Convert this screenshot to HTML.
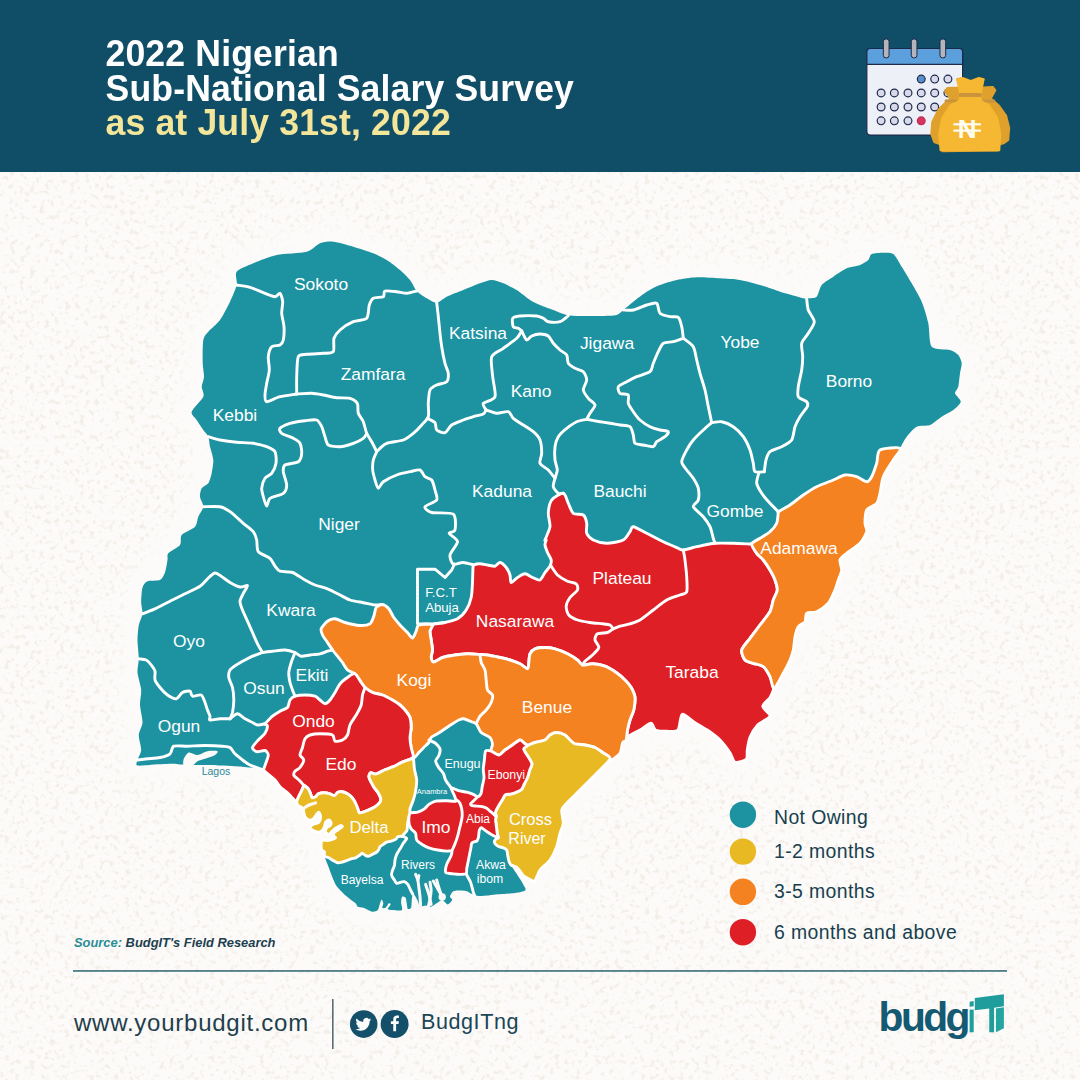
<!DOCTYPE html>
<html><head><meta charset="utf-8"><title>2022 Nigerian Sub-National Salary Survey</title>
<style>
html,body{margin:0;padding:0}
body{width:1080px;height:1080px;overflow:hidden;background:#fcfbf9;font-family:"Liberation Sans",sans-serif;position:relative}
#hdr{position:absolute;left:0;top:0;width:1080px;height:172px;background:#0f4e66}
#title{position:absolute;left:105.5px;top:37.1px;color:#fff;font-weight:bold;font-size:35.6px;line-height:33.1px;letter-spacing:0.15px;white-space:nowrap;transform:scaleY(1.042);transform-origin:0 0}
#title .y{color:#f3e59a}
svg.main{position:absolute;left:0;top:0}
svg text{font-family:"Liberation Sans",sans-serif}
</style></head><body>
<div id="hdr"></div>
<div id="title">2022 Nigerian<br>Sub-National Salary Survey<br><span class="y">as at July 31st, 2022</span></div>
<svg class="main" width="1080" height="1080" viewBox="0 0 1080 1080">
<defs><filter id="tx" x="0" y="0" width="100%" height="100%" color-interpolation-filters="sRGB"><feTurbulence type="fractalNoise" baseFrequency="0.2" numOctaves="2" seed="7"/><feColorMatrix type="matrix" values="0 0 0 0 0.93  0 0 0 0 0.89  0 0 0 0 0.855  6 0 0 0 -3.3"/></filter>
<filter id="bl" x="-10%" y="-10%" width="120%" height="120%"><feGaussianBlur stdDeviation="9"/></filter></defs>
<rect x="0" y="172" width="1080" height="908" filter="url(#tx)" opacity="0.5"/>
<path d="M236.7 271.7C238.9 268.9 248.1 265.5 253.3 263.3C258.5 261.1 269.8 256.5 276.7 255C283.6 253.5 301.1 253.2 306.7 251.7C312.3 250.2 316.5 244.6 320 243.3C323.5 242 329 241.3 333.3 241.7C337.6 242.1 348.1 245.2 353.3 246.7C358.5 248.2 369 251.6 373.3 253.3C377.6 255 383.2 257.8 386.7 260C390.2 262.2 397 267.4 400 270C403 272.6 407.8 277.3 410 280C412.2 282.7 414.5 288.6 416.7 291C418.9 293.4 424.1 296.8 426.7 298.3C429.3 299.8 434.1 302.9 436.7 302.7C439.3 302.5 443.2 298.4 446.7 296.7C450.2 295 459 291.7 463.3 290C467.6 288.3 476.3 284.6 480 283.3C483.7 282 488.7 280 491.7 280C494.7 280 500.1 282 503.3 283.3C506.6 284.6 513.2 287.8 516.7 290C520.2 292.2 527 298.1 530 300C533 301.9 537 303.7 540 305C543 306.3 549.8 308.7 553.3 310C556.8 311.3 563.2 314.2 566.7 315C570.2 315.8 575.7 315.9 580 316C584.3 316.1 595.2 316.1 600 316C604.8 315.9 613.7 315.8 616.7 315C619.7 314.2 621.1 311.7 623.3 310C625.5 308.3 630.3 304.1 633.3 301.7C636.3 299.3 643.2 293.9 646.7 291.7C650.2 289.5 656.1 286.5 660 285C663.9 283.5 671.9 281 676.7 280C681.5 279 691.1 277.5 696.7 277.3C702.3 277.1 714.4 277.9 720 278.3C725.6 278.7 734.8 279.1 740 280C745.2 280.9 754.8 283.5 760 285C765.2 286.5 775.9 290.4 780 291.7C784.1 293 788.7 294.1 791.7 295C794.7 295.9 801.1 297.9 803.3 298.3C805.5 298.7 806.6 298.5 808.3 298.3C810 298.1 815 298.4 816.7 296.7C818.4 295 819.5 287.6 821.7 285C823.9 282.4 830 278.9 833.3 276.7C836.5 274.5 843.2 269.8 846.7 268.3C850.2 266.8 857.2 266.1 860 265C862.8 263.9 866.8 261.4 868.3 260C869.8 258.6 869.8 254.9 871.7 254C873.7 253.1 880.5 252.7 883.3 252.7C886.1 252.7 890.9 252.2 893.3 254C895.7 255.8 899.3 262.9 901.7 266.7C904.1 270.5 909.1 278.8 911.7 283.3C914.3 287.9 919.5 296.5 921.7 301.7C923.9 306.9 927 317.4 928.3 323.3C929.6 329.2 928.9 343.2 931.7 346.7C934.5 350.2 946.5 348.9 950 350C953.5 351.1 956.8 353.3 958.3 355C959.8 356.7 961.5 360.9 961.7 363.3C961.9 365.7 960.4 370.3 960 373.3C959.6 376.3 958.9 384.1 958.3 386.7C957.6 389.3 954.7 391.4 955 393.3C955.3 395.2 960.9 399.5 960.7 401.7C960.5 403.9 955.8 408.1 953.3 410C950.8 411.9 944.7 414.8 941.7 416.7C938.7 418.6 933.2 423.7 930 425C926.8 426.3 919.7 425.2 916.7 426.7C913.7 428.2 908.9 433.9 906.7 436.7C904.5 439.5 901.7 445.3 900 448.3C898.3 451.3 895.5 456.3 893.3 460C891.1 463.7 885 472.4 883.3 476.7C881.6 481 880.9 489.8 880 493.3C879.1 496.8 878.4 501.1 876.7 503.3C875 505.5 868.2 507.4 866.7 510C865.2 512.6 865 520.5 865 523.3C865 526.1 867.4 529.1 866.7 531.7C866.1 534.3 862.6 540.5 860 543.3C857.4 546.1 849.3 551.1 846.7 553.3C844.1 555.5 840.6 557.8 840 560C839.4 562.2 841.9 567.4 841.7 570C841.5 572.6 839.2 577.4 838.3 580C837.4 582.6 836.3 587 835 590C833.7 593 830.7 600.5 828.3 603.3C825.9 606.1 819.5 610.4 816.7 611.7C813.9 613 808.2 612 806.7 613.3C805.2 614.6 806.1 620 805 621.7C803.9 623.4 799.6 624.8 798.3 626.7C797 628.7 795.6 633.7 795 636.7C794.4 639.7 793.9 647 793.3 650C792.6 653 791.3 657 790 660C788.7 663 785.2 669.6 783.3 673.3C781.3 677 776.7 685.1 775 688.3C773.3 691.5 771.6 695.4 770 697.7C768.4 700 762.7 703.9 762.7 706.3C762.7 708.7 770.6 713.6 770 716C769.4 718.4 760.3 722.2 757.7 725C755.1 727.8 751.4 734 750 737.3C748.6 740.5 747.8 747.1 747.3 750C746.8 752.9 747.9 757.7 746.3 759.3C744.7 760.9 737.1 763.2 735 762.3C732.9 761.4 732 755.6 730 752.7C728 749.8 723 743 720 740C717 737 710.5 732.2 707.3 730C704 727.8 698.2 724.7 695 722.7C691.8 720.7 684.5 713.4 682.3 714.3C680.1 715.2 680 727.8 678 730C676 732.2 669.6 731.3 666.7 731.3C663.8 731.3 657.7 731.3 655.7 730.3C653.7 729.3 653 723.3 651 723.3C649 723.3 643.1 728.2 640 730C636.9 731.8 629.4 735.5 627.3 737.3C625.2 739.1 624.6 741.6 623.7 743.7C622.8 745.8 621.6 751.2 620 753.3C618.4 755.4 613.7 758.7 611.7 760C609.8 761.3 607 761.6 605 763.3C603 765 599.1 770.7 596.7 773.3C594.3 775.9 589.3 780.7 586.7 783.3C584.1 785.9 579.3 790.7 576.7 793.3C574.1 795.9 568.7 801.1 566.7 803.3C564.8 805.5 562.1 807.4 561.7 810C561.3 812.6 563.5 820.3 563.3 823.3C563.1 826.3 560.9 830.3 560 833.3C559.1 836.3 558 843.2 556.7 846.7C555.4 850.2 552.2 857 550 860C547.8 863 542 867.3 540 870C538 872.7 536.2 879.4 535 880.7C533.8 882 532.2 880.4 531.1 880C530 879.6 527.7 878.4 526.7 877.8C525.7 877.2 524.2 876.5 523.3 875.6C522.4 874.7 520.9 872.2 520 871.1C519.1 870 517.9 868 516.7 867.2C515.5 866.4 511.2 864.4 511.1 865C511 865.6 514.4 870.4 515.6 872.2C516.8 874 519 877.3 520 878.9C521 880.5 522.6 883.1 523.3 884.4C524 885.7 525.5 888 525.6 888.9C525.7 889.8 525.1 890.7 524.4 891.1C523.7 891.5 521.6 891.9 520 892.2C518.4 892.5 514.2 893.1 512.2 893.3C510.2 893.5 506.6 893.8 504.4 893.9C502.2 894 497.9 894.2 495.6 894.4C493.3 894.6 488.7 895.4 486.7 895.6C484.7 895.8 481.6 896.2 480 896.1C478.4 896 475.8 895.4 474.4 895C473 894.6 470.4 893.3 469.4 892.8C468.4 892.3 468.4 891.6 466.7 891.3C465 891 458.6 890.5 456.7 890.6C454.8 890.7 453.1 891.4 452.2 892.2C451.3 893 450 895.7 450 896.7C450 897.7 452.5 899 452.2 900C451.9 901 449.1 904.4 447.8 904.4C446.5 904.4 443.6 900.1 442.2 900C440.8 899.9 438.1 902.4 436.7 903.3C435.3 904.2 432.5 906.4 431.1 906.7C429.7 907 427 905.6 425.6 905.6C424.2 905.6 421 907.3 420 906.7C419 906.1 418.4 902.4 417.8 901.1C417.2 899.8 416.2 897.6 415.6 896.7C415 895.8 413.3 893.6 412.8 894.2C412.3 894.8 411.9 899.3 411.7 901.1C411.5 902.9 411.6 906.8 411.1 907.8C410.6 908.8 408.4 909.5 407.8 908.9C407.2 908.3 407 904.7 406.7 903.3C406.4 901.9 406.2 898.7 405.6 897.8C405 896.9 402.8 896.1 402.2 896.7C401.6 897.3 401.1 900.5 401.1 902.2C401.1 903.9 402.5 908.3 402.2 909.4C401.9 910.5 400.2 910.5 398.9 910.6C397.6 910.7 393.6 910.2 392.2 910C390.8 909.8 388 909.6 387.8 908.9C387.6 908.2 390.5 905.1 390.6 904.4C390.7 903.7 389.5 902.9 388.9 903.3C388.2 903.7 386.5 907.2 385.6 907.8C384.7 908.4 382.5 908.4 382.2 907.8C381.9 907.2 383.4 904.4 383.3 903.3C383.2 902.2 382.1 899.4 381.7 899.4C381.3 899.4 380.5 901.9 380 903.3C379.5 904.7 378.8 908.9 377.8 910C376.8 911.1 374.1 912 372.2 911.7C370.3 911.4 365.2 908.4 363.3 907.8C361.4 907.1 358.8 907.3 357.8 906.7C356.8 906.1 356.5 904.2 355.6 903.3C354.7 902.4 352.4 901 351.1 900C349.8 899 347 896.9 345.6 895.6C344.2 894.3 341.3 891.5 340 890C338.7 888.5 336.6 886.1 335.6 884.4C334.6 882.7 332.9 878.4 332.2 876.7C331.5 875 330.4 872.3 330 871.1C329.6 869.9 329.3 869 328.9 867.8C328.5 866.6 327.3 863.7 326.7 862.2C326.1 860.7 324.7 857.5 324.4 856.1C324.1 854.7 324.8 852.5 324.4 851.7C324 850.9 322.1 850.8 321.7 850C321.3 849.2 321.1 846.8 321.1 845.6C321.1 844.4 321.3 841.8 321.7 841.1C322.1 840.4 323.6 840.1 324.4 840C325.2 839.9 326.8 840.7 327.8 840.6C328.8 840.5 331.2 839.8 332.2 839.4C333.2 839 335.5 838.3 335.6 837.8C335.7 837.3 333.5 836.3 333.3 835.6C333.1 834.9 333.8 832.9 334.4 832.2C335 831.5 336.8 830.7 337.8 830C338.8 829.3 341.8 827.3 342.2 826.7C342.6 826.1 341.5 825.4 340.6 825.6C339.7 825.8 336.7 827.6 335.6 828.3C334.5 829 333.1 830.3 332.2 831.1C331.3 831.9 329.8 834.3 328.9 834.4C328 834.5 325.9 833.1 325.6 832.2C325.3 831.3 326.1 828.7 326.7 827.8C327.3 826.9 329.4 826.2 330 825.6C330.6 825 331.2 823.5 331.1 822.8C331 822.1 329.6 820.1 328.9 820C328.2 819.9 326.2 821.3 325.6 822.2C325 823.1 324.8 825.6 324.4 826.7C324 827.8 323.1 829.9 322.2 830.6C321.3 831.3 319.1 832.3 317.8 832.2C316.5 832.1 313.2 830.7 312.2 830C311.2 829.3 309.9 827.4 310 826.7C310.1 826 312.1 825 313.3 824.4C314.5 823.8 318 823.2 318.9 822.2C319.8 821.2 320.6 818 320.6 816.7C320.6 815.4 319.4 812.5 318.9 812.2C318.4 811.9 317.4 813.5 316.7 814.4C316 815.3 314.3 818.2 313.3 818.9C312.3 819.6 310 820.3 308.9 820C307.8 819.7 305.6 817.6 305 816.7C304.4 815.8 304.2 813.9 303.9 812.8C303.6 811.7 303.5 809.2 302.8 808.3C302.1 807.4 299.1 806.5 298.3 805.6C297.5 804.7 297.2 802.4 296.7 801.7C296.2 801 295.7 801.2 294.4 800C293.1 798.8 288.6 793.9 286.7 792.2C284.8 790.5 281.5 788.3 280 786.7C278.5 785.1 276.8 781.8 275 780C273.2 778.2 267.8 773.9 266.2 772.5C264.6 771.1 264.6 770.1 262.5 769.5C260.4 768.9 253.6 767.9 250 767.5C246.4 767.1 238.9 766.5 235 766.2C231.1 765.9 223.9 765.7 220 765.5C216.1 765.3 208.6 765.1 205 765C201.4 764.9 195.8 765.1 192.5 765C189.2 764.9 182.6 764.7 180 764.5C177.4 764.3 175.8 763.8 172.5 763.8C169.2 763.8 159.6 764.3 155 764.5C150.4 764.7 139.8 766.1 137.5 765.5C135.2 764.9 137 762 137.5 760C138 758 141 753.2 141.2 750C141.4 746.8 138.6 738.6 138.8 735C139 731.4 142.3 726.4 142.5 722.5C142.7 718.6 140.2 709.2 140 705C139.8 700.8 141.5 694.2 141.2 690C140.9 685.8 137.8 676.6 137.5 672.5C137.2 668.4 138.8 663 138.8 658.8C138.8 654.6 137.5 644.4 137.5 640C137.5 635.6 138.2 628.4 138.8 625C139.5 621.6 142.2 616.7 142.5 613.8C142.8 610.9 141.2 605.9 141.2 602.5C141.2 599.1 141.7 590.3 142.5 587.5C143.3 584.7 145.2 582.2 147.5 581.2C149.8 580.2 157.7 581.1 160 580C162.3 578.9 164 575.1 165 572.5C166 569.9 167.1 562.5 167.5 560C167.9 557.5 166.7 555.2 168.3 553.3C169.9 551.3 178.3 547.4 180 545C181.7 542.6 179.8 537.4 181.7 535C183.6 532.6 192.8 529.1 195 526.7C197.2 524.3 197.2 519.3 198.3 516.7C199.4 514.1 203.1 509.3 203.3 506.7C203.5 504.1 200.2 499.1 200 496.7C199.8 494.3 200.6 490 201.7 488.3C202.8 486.6 207 485.2 208.3 483.3C209.6 481.4 211 476.3 211.7 473.3C212.3 470.3 213.5 463.5 213.3 460C213.1 456.5 210.7 449.7 210 446.7C209.3 443.7 209.2 438.9 208.3 436.7C207.4 434.5 204.8 432.2 203.3 430C201.8 427.8 198.2 422.4 196.7 420C195.2 417.6 190.8 414.7 191.7 411.7C192.6 408.7 202 399.9 203.3 396.7C204.6 393.4 201.6 389.3 201.7 386.7C201.8 384.1 203.9 379.7 204 376.7C204.1 373.7 202.8 368.1 202.7 363.3C202.6 358.5 202.6 344.1 203.3 340C204 335.9 206.1 334.3 208.3 331.7C210.5 329.1 217.2 323.9 220 320C222.8 316.1 227.8 306.2 230 301.7C232.2 297.1 235.8 288.9 236.7 285C237.6 281.1 234.5 274.5 236.7 271.7Z" fill="#fcfbf9" stroke="#fcfbf9" stroke-width="34" stroke-linejoin="round" filter="url(#bl)"/>
<g id="map">
<path d="M236.7 271.7C238.9 268.9 248.1 265.5 253.3 263.3C258.5 261.1 269.8 256.5 276.7 255C283.6 253.5 301.1 253.2 306.7 251.7C312.3 250.2 316.5 244.6 320 243.3C323.5 242 329 241.3 333.3 241.7C337.6 242.1 348.1 245.2 353.3 246.7C358.5 248.2 369 251.6 373.3 253.3C377.6 255 383.2 257.8 386.7 260C390.2 262.2 397 267.4 400 270C403 272.6 407.8 277.3 410 280C412.2 282.7 414.5 288.6 416.7 291C418.9 293.4 424.1 296.8 426.7 298.3C429.3 299.8 434.1 302.9 436.7 302.7C439.3 302.5 443.2 298.4 446.7 296.7C450.2 295 459 291.7 463.3 290C467.6 288.3 476.3 284.6 480 283.3C483.7 282 488.7 280 491.7 280C494.7 280 500.1 282 503.3 283.3C506.6 284.6 513.2 287.8 516.7 290C520.2 292.2 527 298.1 530 300C533 301.9 537 303.7 540 305C543 306.3 549.8 308.7 553.3 310C556.8 311.3 563.2 314.2 566.7 315C570.2 315.8 575.7 315.9 580 316C584.3 316.1 595.2 316.1 600 316C604.8 315.9 613.7 315.8 616.7 315C619.7 314.2 621.1 311.7 623.3 310C625.5 308.3 630.3 304.1 633.3 301.7C636.3 299.3 643.2 293.9 646.7 291.7C650.2 289.5 656.1 286.5 660 285C663.9 283.5 671.9 281 676.7 280C681.5 279 691.1 277.5 696.7 277.3C702.3 277.1 714.4 277.9 720 278.3C725.6 278.7 734.8 279.1 740 280C745.2 280.9 754.8 283.5 760 285C765.2 286.5 775.9 290.4 780 291.7C784.1 293 788.7 294.1 791.7 295C794.7 295.9 801.1 297.9 803.3 298.3C805.5 298.7 806.6 298.5 808.3 298.3C810 298.1 815 298.4 816.7 296.7C818.4 295 819.5 287.6 821.7 285C823.9 282.4 830 278.9 833.3 276.7C836.5 274.5 843.2 269.8 846.7 268.3C850.2 266.8 857.2 266.1 860 265C862.8 263.9 866.8 261.4 868.3 260C869.8 258.6 869.8 254.9 871.7 254C873.7 253.1 880.5 252.7 883.3 252.7C886.1 252.7 890.9 252.2 893.3 254C895.7 255.8 899.3 262.9 901.7 266.7C904.1 270.5 909.1 278.8 911.7 283.3C914.3 287.9 919.5 296.5 921.7 301.7C923.9 306.9 927 317.4 928.3 323.3C929.6 329.2 928.9 343.2 931.7 346.7C934.5 350.2 946.5 348.9 950 350C953.5 351.1 956.8 353.3 958.3 355C959.8 356.7 961.5 360.9 961.7 363.3C961.9 365.7 960.4 370.3 960 373.3C959.6 376.3 958.9 384.1 958.3 386.7C957.6 389.3 954.7 391.4 955 393.3C955.3 395.2 960.9 399.5 960.7 401.7C960.5 403.9 955.8 408.1 953.3 410C950.8 411.9 944.7 414.8 941.7 416.7C938.7 418.6 933.2 423.7 930 425C926.8 426.3 919.7 425.2 916.7 426.7C913.7 428.2 908.9 433.9 906.7 436.7C904.5 439.5 901.7 445.3 900 448.3C898.3 451.3 895.5 456.3 893.3 460C891.1 463.7 885 472.4 883.3 476.7C881.6 481 880.9 489.8 880 493.3C879.1 496.8 878.4 501.1 876.7 503.3C875 505.5 868.2 507.4 866.7 510C865.2 512.6 865 520.5 865 523.3C865 526.1 867.4 529.1 866.7 531.7C866.1 534.3 862.6 540.5 860 543.3C857.4 546.1 849.3 551.1 846.7 553.3C844.1 555.5 840.6 557.8 840 560C839.4 562.2 841.9 567.4 841.7 570C841.5 572.6 839.2 577.4 838.3 580C837.4 582.6 836.3 587 835 590C833.7 593 830.7 600.5 828.3 603.3C825.9 606.1 819.5 610.4 816.7 611.7C813.9 613 808.2 612 806.7 613.3C805.2 614.6 806.1 620 805 621.7C803.9 623.4 799.6 624.8 798.3 626.7C797 628.7 795.6 633.7 795 636.7C794.4 639.7 793.9 647 793.3 650C792.6 653 791.3 657 790 660C788.7 663 785.2 669.6 783.3 673.3C781.3 677 776.7 685.1 775 688.3C773.3 691.5 771.6 695.4 770 697.7C768.4 700 762.7 703.9 762.7 706.3C762.7 708.7 770.6 713.6 770 716C769.4 718.4 760.3 722.2 757.7 725C755.1 727.8 751.4 734 750 737.3C748.6 740.5 747.8 747.1 747.3 750C746.8 752.9 747.9 757.7 746.3 759.3C744.7 760.9 737.1 763.2 735 762.3C732.9 761.4 732 755.6 730 752.7C728 749.8 723 743 720 740C717 737 710.5 732.2 707.3 730C704 727.8 698.2 724.7 695 722.7C691.8 720.7 684.5 713.4 682.3 714.3C680.1 715.2 680 727.8 678 730C676 732.2 669.6 731.3 666.7 731.3C663.8 731.3 657.7 731.3 655.7 730.3C653.7 729.3 653 723.3 651 723.3C649 723.3 643.1 728.2 640 730C636.9 731.8 629.4 735.5 627.3 737.3C625.2 739.1 624.6 741.6 623.7 743.7C622.8 745.8 621.6 751.2 620 753.3C618.4 755.4 613.7 758.7 611.7 760C609.8 761.3 607 761.6 605 763.3C603 765 599.1 770.7 596.7 773.3C594.3 775.9 589.3 780.7 586.7 783.3C584.1 785.9 579.3 790.7 576.7 793.3C574.1 795.9 568.7 801.1 566.7 803.3C564.8 805.5 562.1 807.4 561.7 810C561.3 812.6 563.5 820.3 563.3 823.3C563.1 826.3 560.9 830.3 560 833.3C559.1 836.3 558 843.2 556.7 846.7C555.4 850.2 552.2 857 550 860C547.8 863 542 867.3 540 870C538 872.7 536.2 879.4 535 880.7C533.8 882 532.2 880.4 531.1 880C530 879.6 527.7 878.4 526.7 877.8C525.7 877.2 524.2 876.5 523.3 875.6C522.4 874.7 520.9 872.2 520 871.1C519.1 870 517.9 868 516.7 867.2C515.5 866.4 511.2 864.4 511.1 865C511 865.6 514.4 870.4 515.6 872.2C516.8 874 519 877.3 520 878.9C521 880.5 522.6 883.1 523.3 884.4C524 885.7 525.5 888 525.6 888.9C525.7 889.8 525.1 890.7 524.4 891.1C523.7 891.5 521.6 891.9 520 892.2C518.4 892.5 514.2 893.1 512.2 893.3C510.2 893.5 506.6 893.8 504.4 893.9C502.2 894 497.9 894.2 495.6 894.4C493.3 894.6 488.7 895.4 486.7 895.6C484.7 895.8 481.6 896.2 480 896.1C478.4 896 475.8 895.4 474.4 895C473 894.6 470.4 893.3 469.4 892.8C468.4 892.3 468.4 891.6 466.7 891.3C465 891 458.6 890.5 456.7 890.6C454.8 890.7 453.1 891.4 452.2 892.2C451.3 893 450 895.7 450 896.7C450 897.7 452.5 899 452.2 900C451.9 901 449.1 904.4 447.8 904.4C446.5 904.4 443.6 900.1 442.2 900C440.8 899.9 438.1 902.4 436.7 903.3C435.3 904.2 432.5 906.4 431.1 906.7C429.7 907 427 905.6 425.6 905.6C424.2 905.6 421 907.3 420 906.7C419 906.1 418.4 902.4 417.8 901.1C417.2 899.8 416.2 897.6 415.6 896.7C415 895.8 413.3 893.6 412.8 894.2C412.3 894.8 411.9 899.3 411.7 901.1C411.5 902.9 411.6 906.8 411.1 907.8C410.6 908.8 408.4 909.5 407.8 908.9C407.2 908.3 407 904.7 406.7 903.3C406.4 901.9 406.2 898.7 405.6 897.8C405 896.9 402.8 896.1 402.2 896.7C401.6 897.3 401.1 900.5 401.1 902.2C401.1 903.9 402.5 908.3 402.2 909.4C401.9 910.5 400.2 910.5 398.9 910.6C397.6 910.7 393.6 910.2 392.2 910C390.8 909.8 388 909.6 387.8 908.9C387.6 908.2 390.5 905.1 390.6 904.4C390.7 903.7 389.5 902.9 388.9 903.3C388.2 903.7 386.5 907.2 385.6 907.8C384.7 908.4 382.5 908.4 382.2 907.8C381.9 907.2 383.4 904.4 383.3 903.3C383.2 902.2 382.1 899.4 381.7 899.4C381.3 899.4 380.5 901.9 380 903.3C379.5 904.7 378.8 908.9 377.8 910C376.8 911.1 374.1 912 372.2 911.7C370.3 911.4 365.2 908.4 363.3 907.8C361.4 907.1 358.8 907.3 357.8 906.7C356.8 906.1 356.5 904.2 355.6 903.3C354.7 902.4 352.4 901 351.1 900C349.8 899 347 896.9 345.6 895.6C344.2 894.3 341.3 891.5 340 890C338.7 888.5 336.6 886.1 335.6 884.4C334.6 882.7 332.9 878.4 332.2 876.7C331.5 875 330.4 872.3 330 871.1C329.6 869.9 329.3 869 328.9 867.8C328.5 866.6 327.3 863.7 326.7 862.2C326.1 860.7 324.7 857.5 324.4 856.1C324.1 854.7 324.8 852.5 324.4 851.7C324 850.9 322.1 850.8 321.7 850C321.3 849.2 321.1 846.8 321.1 845.6C321.1 844.4 321.3 841.8 321.7 841.1C322.1 840.4 323.6 840.1 324.4 840C325.2 839.9 326.8 840.7 327.8 840.6C328.8 840.5 331.2 839.8 332.2 839.4C333.2 839 335.5 838.3 335.6 837.8C335.7 837.3 333.5 836.3 333.3 835.6C333.1 834.9 333.8 832.9 334.4 832.2C335 831.5 336.8 830.7 337.8 830C338.8 829.3 341.8 827.3 342.2 826.7C342.6 826.1 341.5 825.4 340.6 825.6C339.7 825.8 336.7 827.6 335.6 828.3C334.5 829 333.1 830.3 332.2 831.1C331.3 831.9 329.8 834.3 328.9 834.4C328 834.5 325.9 833.1 325.6 832.2C325.3 831.3 326.1 828.7 326.7 827.8C327.3 826.9 329.4 826.2 330 825.6C330.6 825 331.2 823.5 331.1 822.8C331 822.1 329.6 820.1 328.9 820C328.2 819.9 326.2 821.3 325.6 822.2C325 823.1 324.8 825.6 324.4 826.7C324 827.8 323.1 829.9 322.2 830.6C321.3 831.3 319.1 832.3 317.8 832.2C316.5 832.1 313.2 830.7 312.2 830C311.2 829.3 309.9 827.4 310 826.7C310.1 826 312.1 825 313.3 824.4C314.5 823.8 318 823.2 318.9 822.2C319.8 821.2 320.6 818 320.6 816.7C320.6 815.4 319.4 812.5 318.9 812.2C318.4 811.9 317.4 813.5 316.7 814.4C316 815.3 314.3 818.2 313.3 818.9C312.3 819.6 310 820.3 308.9 820C307.8 819.7 305.6 817.6 305 816.7C304.4 815.8 304.2 813.9 303.9 812.8C303.6 811.7 303.5 809.2 302.8 808.3C302.1 807.4 299.1 806.5 298.3 805.6C297.5 804.7 297.2 802.4 296.7 801.7C296.2 801 295.7 801.2 294.4 800C293.1 798.8 288.6 793.9 286.7 792.2C284.8 790.5 281.5 788.3 280 786.7C278.5 785.1 276.8 781.8 275 780C273.2 778.2 267.8 773.9 266.2 772.5C264.6 771.1 264.6 770.1 262.5 769.5C260.4 768.9 253.6 767.9 250 767.5C246.4 767.1 238.9 766.5 235 766.2C231.1 765.9 223.9 765.7 220 765.5C216.1 765.3 208.6 765.1 205 765C201.4 764.9 195.8 765.1 192.5 765C189.2 764.9 182.6 764.7 180 764.5C177.4 764.3 175.8 763.8 172.5 763.8C169.2 763.8 159.6 764.3 155 764.5C150.4 764.7 139.8 766.1 137.5 765.5C135.2 764.9 137 762 137.5 760C138 758 141 753.2 141.2 750C141.4 746.8 138.6 738.6 138.8 735C139 731.4 142.3 726.4 142.5 722.5C142.7 718.6 140.2 709.2 140 705C139.8 700.8 141.5 694.2 141.2 690C140.9 685.8 137.8 676.6 137.5 672.5C137.2 668.4 138.8 663 138.8 658.8C138.8 654.6 137.5 644.4 137.5 640C137.5 635.6 138.2 628.4 138.8 625C139.5 621.6 142.2 616.7 142.5 613.8C142.8 610.9 141.2 605.9 141.2 602.5C141.2 599.1 141.7 590.3 142.5 587.5C143.3 584.7 145.2 582.2 147.5 581.2C149.8 580.2 157.7 581.1 160 580C162.3 578.9 164 575.1 165 572.5C166 569.9 167.1 562.5 167.5 560C167.9 557.5 166.7 555.2 168.3 553.3C169.9 551.3 178.3 547.4 180 545C181.7 542.6 179.8 537.4 181.7 535C183.6 532.6 192.8 529.1 195 526.7C197.2 524.3 197.2 519.3 198.3 516.7C199.4 514.1 203.1 509.3 203.3 506.7C203.5 504.1 200.2 499.1 200 496.7C199.8 494.3 200.6 490 201.7 488.3C202.8 486.6 207 485.2 208.3 483.3C209.6 481.4 211 476.3 211.7 473.3C212.3 470.3 213.5 463.5 213.3 460C213.1 456.5 210.7 449.7 210 446.7C209.3 443.7 209.2 438.9 208.3 436.7C207.4 434.5 204.8 432.2 203.3 430C201.8 427.8 198.2 422.4 196.7 420C195.2 417.6 190.8 414.7 191.7 411.7C192.6 408.7 202 399.9 203.3 396.7C204.6 393.4 201.6 389.3 201.7 386.7C201.8 384.1 203.9 379.7 204 376.7C204.1 373.7 202.8 368.1 202.7 363.3C202.6 358.5 202.6 344.1 203.3 340C204 335.9 206.1 334.3 208.3 331.7C210.5 329.1 217.2 323.9 220 320C222.8 316.1 227.8 306.2 230 301.7C232.2 297.1 235.8 288.9 236.7 285C237.6 281.1 234.5 274.5 236.7 271.7Z" fill="#1d93a1"/>
<path d="M183.8 758.8C184.5 757.1 187 753 188.8 752.5C190.6 752 195.1 755.2 197.5 755C199.9 754.8 204.9 751.7 207.5 751.2C210.1 750.7 216.5 750.7 217.5 751.2C218.5 751.7 216.6 754 215 755C213.4 756 207.3 758 205 758.8C202.7 759.6 199.1 760.3 197.5 761.2C195.9 762.1 194.3 764.9 192.5 765.5C190.7 766.1 184.9 766.4 183.8 765.5C182.7 764.6 183.2 760.5 183.8 758.8Z" fill="#fcfbf9"/>
<path d="M563.3 493.3C565.5 493.7 567 500.7 568.3 503.3C569.6 505.9 571.3 511.8 573.3 513.3C575.2 514.8 581.6 513.7 583.3 515C585 516.3 586.3 520.9 586.7 523.3C587.1 525.7 585.8 531.1 586.7 533.3C587.6 535.5 590.7 538.7 593.3 540C595.9 541.3 602.8 543.3 606.7 543.3C610.6 543.3 620.3 541.5 623.3 540C626.3 538.5 628.7 533.4 630 531.7C631.3 530 631.1 526.5 633.3 526.7C635.5 526.9 642.8 531.3 646.7 533.3C650.6 535.2 659.2 539.8 663.3 541.7C667.4 543.7 675.7 547.2 678.3 548.3C680.9 549.4 680.9 550.2 683.3 550C685.7 549.8 692.6 547.6 696.7 546.7C700.8 545.8 710.2 543.7 715 543.3C719.8 542.9 728.8 543.2 733.3 543.3C737.8 543.4 747.6 543.9 750 544C752.4 544.1 750.8 542.8 751.7 544C752.6 545.2 755.2 551.2 756.7 553.3C758.2 555.4 761.6 557.8 763.3 560C765 562.2 768.5 567.4 770 570C771.5 572.6 774.1 577.4 775 580C775.9 582.6 777.5 587.4 777.3 590C777.1 592.6 774.2 597.2 773.3 600C772.4 602.8 771.7 608.5 770 611.7C768.3 615 762.6 621.5 760 625C757.4 628.5 752.4 635 750 638.3C747.6 641.5 742.4 647.2 741.7 650C741.1 652.8 743.5 658.3 745 660C746.5 661.7 750.9 662.4 753.3 663.3C755.7 664.2 761.1 665 763.3 666.7C765.5 668.4 768.6 673.9 770 676.7C771.4 679.5 773.5 686.8 774 688.3C774.5 689.8 774.5 687.1 774 688.3C773.5 689.5 771.5 695.4 770 697.7C768.5 700 762.7 703.9 762.7 706.3C762.7 708.7 770.6 713.6 770 716C769.4 718.4 760.3 722.2 757.7 725C755.1 727.8 751.4 734 750 737.3C748.6 740.5 747.8 747.1 747.3 750C746.8 752.9 747.9 757.7 746.3 759.3C744.7 760.9 737.1 763.2 735 762.3C732.9 761.4 732 755.6 730 752.7C728 749.8 723 743 720 740C717 737 710.5 732.2 707.3 730C704 727.8 698.2 724.7 695 722.7C691.8 720.7 684.5 713.4 682.3 714.3C680.1 715.2 680 727.8 678 730C676 732.2 669.6 731.3 666.7 731.3C663.8 731.3 657.7 731.3 655.7 730.3C653.7 729.3 653 723.3 651 723.3C649 723.3 643.1 728.2 640 730C636.9 731.8 629.4 735.5 627.3 737.3C625.2 739.1 623.8 743.3 623.7 743.7C623.6 744.1 625.7 741.8 626.2 740C626.7 738.2 627 732.6 627.5 730C628 727.4 629.2 722.6 630 720C630.8 717.4 633.1 712.9 633.8 710C634.4 707.1 635.3 700.4 635 697.5C634.7 694.6 632.5 689.8 631.2 687.5C629.9 685.2 627 682 625 680C623 678 618.8 674.3 616.2 672.5C613.6 670.7 608.1 667.3 605 666.2C601.9 665.1 595.4 664 592.5 663.8C589.6 663.6 584.5 665.5 582.5 665C580.5 664.5 579.5 661.5 577.5 660C575.5 658.5 570.4 655.3 567.5 653.8C564.6 652.3 557.9 649.6 555 648.8C552.1 648 547.6 647.5 545 647.5C542.4 647.5 537 648 535 648.8C533 649.6 530.8 652 530 653.8C529.2 655.6 529.1 660.5 528.8 662.5C528.5 664.5 528.6 668.6 527.5 668.8C526.4 669 522.3 664.9 520 663.8C517.7 662.7 512.9 660.9 510 660C507.1 659.1 500.4 657.6 497.5 657C494.6 656.4 489.8 655.3 487.5 655C485.2 654.7 482.6 654.7 480 654.5C477.4 654.3 470.8 653.7 467.5 653.8C464.2 653.9 458.2 654.5 455 655C451.8 655.5 445.3 656.6 442.5 657.5C439.7 658.4 435.3 662 433.8 662C432.3 662 431.4 659.1 431.2 657.5C431 655.9 432.5 652.3 432.5 650C432.5 647.7 431.5 642.4 431.2 640C430.9 637.6 429.8 633.3 430 631.2C430.2 629.1 430.6 625.3 432.5 624.2C434.4 623.1 441.8 623.2 445 622.5C448.2 621.8 454.7 620.4 457.5 618.8C460.3 617.2 464.4 612.8 466.2 610C468 607.2 470.4 601.1 471.2 597.5C472 593.9 472.3 586.4 472.5 582.5C472.7 578.6 472.8 569.8 473 567.5C473.2 565.2 472.9 565.5 473.8 565C474.7 564.5 478.2 563.8 480 563.8C481.8 563.8 485.6 564.7 487.5 565C489.4 565.3 493.4 566.5 495 566.2C496.6 565.9 498.5 562.3 500 562.5C501.5 562.7 504.9 565.9 506.2 567.5C507.5 569.1 509.4 573 510 575C510.6 577 510.2 582.2 511.2 582.5C512.2 582.8 515.7 578.6 517.5 577.5C519.3 576.4 523 573.8 525 573.8C527 573.8 530.5 576.7 532.5 577.5C534.5 578.3 538.4 580.6 540 580C541.6 579.4 543.7 574.3 545 572.5C546.3 570.7 549.2 567.8 550 566.2C550.8 564.6 551.5 561.8 551.2 560C550.9 558.2 548.3 554.5 547.5 552.5C546.7 550.5 545.2 546.6 545 545C544.8 543.4 546.2 540.6 546.2 540C546.2 539.4 544.5 541.7 545 540C545.5 538.3 549.6 530.2 550 526.7C550.4 523.2 548.1 516.8 548.3 513.3C548.5 509.8 549.8 502.6 551.7 500C553.7 497.4 561.1 492.9 563.3 493.3Z" fill="#de1f26" stroke="#fff" stroke-width="2.9" stroke-linejoin="round"/>
<path d="M778.3 511.7C779.8 510.8 786.8 507.2 790 505C793.2 502.8 799.8 497.4 803.3 495C806.8 492.6 812.8 488.6 816.7 486.7C820.6 484.8 829.6 481.5 833.3 480C837 478.5 842 475.4 845 475C848 474.6 853.9 475.8 856.7 476.7C859.5 477.6 864.8 481.7 866.7 481.7C868.7 481.7 870.4 479.1 871.7 476.7C873 474.3 875.6 466.8 876.7 463.3C877.8 459.8 877 451.9 880 450C883 448.1 898.3 447 900 448.3C901.7 449.6 895.5 456.3 893.3 460C891.1 463.7 885 472.4 883.3 476.7C881.6 481 880.9 489.8 880 493.3C879.1 496.8 878.4 501.1 876.7 503.3C875 505.5 868.2 507.4 866.7 510C865.2 512.6 865 520.5 865 523.3C865 526.1 867.4 529.1 866.7 531.7C866.1 534.3 862.6 540.5 860 543.3C857.4 546.1 849.3 551.1 846.7 553.3C844.1 555.5 840.6 557.8 840 560C839.4 562.2 841.9 567.4 841.7 570C841.5 572.6 839.2 577.4 838.3 580C837.4 582.6 836.3 587 835 590C833.7 593 830.7 600.5 828.3 603.3C825.9 606.1 819.5 610.4 816.7 611.7C813.9 613 808.2 612 806.7 613.3C805.2 614.6 806.1 620 805 621.7C803.9 623.4 799.6 624.8 798.3 626.7C797 628.7 795.6 633.7 795 636.7C794.4 639.7 793.9 647 793.3 650C792.6 653 791.3 657 790 660C788.7 663 785.4 669.6 783.3 673.3C781.2 677 775.7 687.9 774 688.3C772.3 688.7 771.4 679.5 770 676.7C768.6 673.9 765.5 668.4 763.3 666.7C761.1 665 755.7 664.2 753.3 663.3C750.9 662.4 746.5 661.7 745 660C743.5 658.3 741.1 652.8 741.7 650C742.4 647.2 747.6 641.5 750 638.3C752.4 635 757.4 628.5 760 625C762.6 621.5 768.3 615 770 611.7C771.7 608.5 772.4 602.8 773.3 600C774.2 597.2 777.1 592.6 777.3 590C777.5 587.4 775.9 582.6 775 580C774.1 577.4 771.5 572.6 770 570C768.5 567.4 765 562.2 763.3 560C761.6 557.8 758.2 555.4 756.7 553.3C755.2 551.2 751.3 546 751.7 544C752.1 542 757.6 539.9 760 538.3C762.4 536.7 767.8 533.7 770 531.7C772.2 529.8 775.6 525.9 776.7 523.3C777.8 520.7 778.1 513.2 778.3 511.7C778.5 510.2 776.8 512.6 778.3 511.7Z" fill="#f58220" stroke="#fff" stroke-width="2.9" stroke-linejoin="round"/>
<path d="M332.5 650C331.9 649 328.8 644.5 327.5 642.5C326.2 640.5 323.3 636.8 322.5 635C321.7 633.2 320.6 630.6 321.2 628.8C321.8 627 325.7 622.5 327.5 621.2C329.3 619.9 332.7 618.6 335 618.8C337.3 619 341.8 621.6 345 622.5C348.2 623.4 356.8 625.3 360 625.5C363.2 625.7 368.2 625 370 623.8C371.8 622.6 373 618.3 373.8 616.2C374.6 614.1 375.1 609 376.2 607.5C377.3 606 380.9 604.3 382.5 604.5C384.1 604.7 387.3 607.1 388.8 608.8C390.3 610.5 392.3 615.4 393.8 617.5C395.3 619.6 398.2 623 400 625C401.8 627 405.9 630.8 407.5 632.5C409.1 634.2 411.4 638.2 412.5 638C413.6 637.8 415.4 632.9 416.2 631.2C417 629.5 416.7 625.9 418.8 625C420.9 624.1 431 623.4 432.5 624.2C434 625 430.2 629.1 430 631.2C429.8 633.3 430.9 637.6 431.2 640C431.5 642.4 432.5 647.7 432.5 650C432.5 652.3 431 655.9 431.2 657.5C431.4 659.1 432.3 662 433.8 662C435.3 662 439.7 658.4 442.5 657.5C445.3 656.6 451.8 655.5 455 655C458.2 654.5 464.2 653.9 467.5 653.8C470.8 653.7 477.4 654.3 480 654.5C482.6 654.7 485.2 654.7 487.5 655C489.8 655.3 494.6 656.4 497.5 657C500.4 657.6 507.1 659.1 510 660C512.9 660.9 517.7 662.7 520 663.8C522.3 664.9 526.4 669 527.5 668.8C528.6 668.6 528.5 664.5 528.8 662.5C529.1 660.5 529.2 655.6 530 653.8C530.8 652 533 649.6 535 648.8C537 648 542.4 647.5 545 647.5C547.6 647.5 552.1 648 555 648.8C557.9 649.6 564.6 652.3 567.5 653.8C570.4 655.3 575.5 658.5 577.5 660C579.5 661.5 580.5 664.5 582.5 665C584.5 665.5 589.6 663.6 592.5 663.8C595.4 664 601.9 665.1 605 666.2C608.1 667.3 613.6 670.7 616.2 672.5C618.8 674.3 623 678 625 680C627 682 629.9 685.2 631.2 687.5C632.5 689.8 634.7 694.6 635 697.5C635.3 700.4 634.4 707.1 633.8 710C633.1 712.9 630.8 717.4 630 720C629.2 722.6 628 727.4 627.5 730C627 732.6 626.8 738.3 626.2 740C625.6 741.7 623.5 741 622.7 742.7C621.9 744.4 621.4 751.1 620 753.3C618.6 755.5 613 759.3 611.7 760C610.4 760.7 611.2 759.8 610 758.8C608.8 757.8 604.5 754 602.5 752.5C600.5 751 597.3 748.5 595 747.5C592.7 746.5 587.6 745.5 585 745C582.4 744.5 577 744.4 575 743.8C573 743.1 571.3 741.1 570 740C568.7 738.9 566.8 736 565 735C563.2 734 558.2 732.5 556.2 732.5C554.2 732.5 551.5 734 550 735C548.5 736 547 739 545 740C543 741 537.3 741.8 535 742.5C532.7 743.2 528.8 745.3 527.5 745.5C526.2 745.7 526 744.5 525 743.8C524 743.1 521.6 739.8 520 740C518.4 740.2 514.5 743.7 512.5 745C510.6 746.3 506.8 748.7 505 750C503.2 751.3 500.6 754.8 498.8 755C497 755.2 492 752.7 491.2 751.2C490.4 749.7 492.7 745.6 492.5 743.8C492.3 742 491.5 739 490 737.5C488.5 736 483 734.3 481.2 732.5C479.4 730.7 477.7 725.3 476.2 723.8C474.7 722.3 471.6 721.9 470 721.2C468.4 720.6 465.3 719 463.8 718.8C462.3 718.6 460.3 719.4 458.8 720C457.3 720.6 454.3 722.7 452.5 723.8C450.7 724.9 446.9 727.5 445 728.8C443.1 730.1 439.3 732.7 437.5 733.8C435.7 734.9 432.3 736.4 431.2 737.5C430.1 738.6 429.8 741.2 428.8 742.5C427.8 743.8 425.1 746.2 423.8 747.5C422.5 748.8 420.1 751.1 418.8 752.5C417.5 753.9 414.8 758.6 413.8 758C412.8 757.4 411.7 750.2 411.2 747.5C410.7 744.8 410 740.1 410 737.5C410 734.9 411.2 730.1 411.2 727.5C411.2 724.9 410.8 719.8 410 717.5C409.2 715.2 406.3 711.6 405 710C403.7 708.4 401.6 706.3 400 705C398.4 703.7 394.8 701.3 392.5 700C390.2 698.7 385.1 696 382.5 695C379.9 694 374.8 693.5 372.5 692.5C370.2 691.5 366.5 688.8 365 687.5C363.5 686.2 362.5 684.3 361.2 682.5C359.9 680.7 356.8 675.4 355 673.8C353.2 672.2 349.1 671.5 347.5 670C345.9 668.5 343.8 664.3 342.5 662.5C341.2 660.7 338.8 657.8 337.5 656.2C336.2 654.6 333.1 650.8 332.5 650C331.9 649.2 333.1 651 332.5 650Z" fill="#f58220" stroke="#fff" stroke-width="2.9" stroke-linejoin="round"/>
<path d="M265 723.8C266 722.8 270.6 717.8 272.5 716.2C274.4 714.6 278.1 712.3 280 711.2C281.9 710.1 286.2 709 287.5 707.5C288.8 706 289 701.5 290 700C291 698.5 293.1 696.9 295 696.2C296.9 695.6 302.4 695 305 695C307.6 695 313.1 695.6 315 696.2C316.9 696.9 318.7 699 320 700C321.3 701 323.7 703.8 325 703.8C326.3 703.8 328.7 701.5 330 700C331.3 698.5 333.7 694.6 335 692.5C336.3 690.4 338.4 685.8 340 683.8C341.6 681.8 345.6 678.8 347.5 677.5C349.4 676.2 353.2 673.1 355 673.8C356.8 674.4 359.9 680.7 361.2 682.5C362.5 684.3 363.5 686.2 365 687.5C366.5 688.8 370.2 691.5 372.5 692.5C374.8 693.5 379.9 694 382.5 695C385.1 696 390.2 698.7 392.5 700C394.8 701.3 398.4 703.7 400 705C401.6 706.3 403.7 708.4 405 710C406.3 711.6 409.2 715.2 410 717.5C410.8 719.8 411.2 724.9 411.2 727.5C411.2 730.1 410 734.9 410 737.5C410 740.1 410.7 744.8 411.2 747.5C411.7 750.2 413.8 756.5 413.8 758C413.8 759.5 412.6 758.4 411.1 758.9C409.6 759.4 404.5 761.2 402.2 762.2C399.9 763.2 395.6 765.7 393.3 766.7C391 767.7 385.8 769.4 384.4 770C383 770.6 383.1 770.7 382.2 771.1C381.3 771.5 378.8 772.9 377.8 773.3C376.8 773.7 375.3 774 374.4 773.9C373.5 773.8 371.3 772.4 370.6 772.8C369.9 773.2 368.8 775.5 368.9 776.7C369 777.9 370.4 780.8 371.1 782.2C371.8 783.6 373.5 786.5 374.4 787.8C375.3 789.1 377 790.9 377.8 792.2C378.6 793.5 380.3 796.5 380.6 797.8C380.9 799.1 380.5 801.2 380 802.2C379.5 803.2 377.9 804.7 376.7 805.6C375.5 806.5 372.7 808.1 371.1 808.9C369.5 809.7 365.9 811.2 364.4 811.7C362.9 812.2 360.3 813.2 359.4 812.8C358.5 812.4 358.3 810.1 357.8 808.9C357.3 807.7 356.3 804.7 355.6 803.3C354.9 801.9 353.2 799 352.2 797.8C351.2 796.6 349.1 794.7 347.8 793.9C346.5 793.1 343.5 791.9 342.2 791.7C340.9 791.5 338.8 791.7 337.8 792.2C336.8 792.7 335.4 795.4 334.4 795.6C333.4 795.8 331.3 794.3 330 793.9C328.7 793.5 325.9 792.8 324.4 792.8C322.9 792.8 319.4 793.4 318.3 793.9C317.2 794.4 316.4 796.2 315.6 796.7C314.8 797.2 312.9 798.4 312.2 797.8C311.5 797.2 310.6 793.4 310 792.2C309.4 791 308.6 789.2 307.8 788.3C307 787.4 304.7 785.3 303.9 785.6C303.1 785.9 302.3 789.2 301.7 790.6C301.1 792 299.5 794.7 298.9 796.1C298.2 797.5 297.3 801.2 296.7 801.7C296.1 802.2 295.7 801.2 294.4 800C293.1 798.8 288.6 793.9 286.7 792.2C284.8 790.5 281.5 788.3 280 786.7C278.5 785.1 276.8 781.8 275 780C273.2 778.2 267.7 773.9 266.2 772.5C264.7 771.1 263.9 770.7 263.8 769.5C263.7 768.3 265.2 765.2 265.8 763.3C266.4 761.4 268.4 756.7 268.3 755C268.2 753.3 266.5 750.9 265 750.5C263.5 750.1 258.3 752.1 256.7 751.7C255.1 751.3 252.3 749 252.5 747.5C252.7 746 256.7 741.8 258.3 740C259.9 738.2 263.8 735.1 265 733.3C266.2 731.5 267.5 727.2 267.5 726C267.5 724.8 265.3 724.1 265 723.8C264.7 723.5 264 724.8 265 723.8Z" fill="#de1f26" stroke="#fff" stroke-width="2.9" stroke-linejoin="round"/>
<path d="M303.9 785.6C304.4 786 307 787.4 307.8 788.3C308.6 789.2 309.4 791 310 792.2C310.6 793.4 311.5 797.2 312.2 797.8C312.9 798.4 314.8 797.2 315.6 796.7C316.4 796.2 317.2 794.4 318.3 793.9C319.4 793.4 322.9 792.8 324.4 792.8C325.9 792.8 328.7 793.5 330 793.9C331.3 794.3 333.4 795.8 334.4 795.6C335.4 795.4 336.8 792.7 337.8 792.2C338.8 791.7 340.9 791.5 342.2 791.7C343.5 791.9 346.5 793.1 347.8 793.9C349.1 794.7 351.2 796.6 352.2 797.8C353.2 799 354.9 801.9 355.6 803.3C356.3 804.7 357.3 807.7 357.8 808.9C358.3 810.1 358.5 812.4 359.4 812.8C360.3 813.2 362.9 812.2 364.4 811.7C365.9 811.2 369.5 809.7 371.1 808.9C372.7 808.1 375.5 806.5 376.7 805.6C377.9 804.7 379.5 803.2 380 802.2C380.5 801.2 380.9 799.1 380.6 797.8C380.3 796.5 378.6 793.5 377.8 792.2C377 790.9 375.3 789.1 374.4 787.8C373.5 786.5 371.8 783.6 371.1 782.2C370.4 780.8 369 777.9 368.9 776.7C368.8 775.5 369.9 773.2 370.6 772.8C371.3 772.4 373.5 773.8 374.4 773.9C375.3 774 376.8 773.7 377.8 773.3C378.8 772.9 381.3 771.5 382.2 771.1C383.1 770.7 383 770.6 384.4 770C385.8 769.4 391 767.7 393.3 766.7C395.6 765.7 399.9 763.2 402.2 762.2C404.5 761.2 409.7 759.5 411.1 758.9C412.5 758.3 412.9 756.5 413.3 757.8C413.7 759.1 414 766 414.4 768.9C414.8 771.8 416.5 777.1 416.7 780C416.9 782.9 416 788.5 415.6 791.1C415.2 793.7 414 797.7 413.3 800C412.6 802.3 410.4 807.2 410 808.9C409.6 810.6 410.3 811.6 410 813.3C409.7 815 408.2 820 407.8 822.2C407.4 824.4 407.4 828.7 407.1 830C406.8 831.3 406.2 831.4 405.6 832.2C405 833 402.8 835.9 402.2 836.4C401.6 836.9 401.7 836.1 401.1 836.1C400.5 836.1 398.5 836.3 397.8 836.7C397.1 837.1 396.5 838.8 395.6 839.4C394.7 840 392.3 840.7 391.1 841.1C389.9 841.5 387.7 841.8 386.7 842.2C385.7 842.6 384.2 843.8 383.3 844.4C382.4 845 380.6 846.1 380 846.7C379.4 847.4 379.3 848.7 378.9 849.4C378.5 850.1 377.4 851.6 376.7 852.2C376 852.8 374.3 853.4 373.3 853.9C372.3 854.4 369.9 855.9 368.9 856.1C367.9 856.3 366.5 856 365.6 855.6C364.7 855.2 362.9 853.4 362.2 853.3C361.5 853.2 360.9 854.4 360 855C359.1 855.6 356.8 857.3 355.6 857.8C354.4 858.3 352.3 858.5 351.1 858.9C349.9 859.3 347.9 860.2 346.7 860.6C345.5 861 343.4 861.9 342.2 862.2C341 862.5 339 863 337.8 862.8C336.6 862.6 334.5 861.2 333.3 860.6C332.1 860 330.1 858.4 328.9 857.8C327.7 857.2 325 856.9 324.4 856.1C323.8 855.3 324.8 852.5 324.4 851.7C324 850.9 322.1 850.8 321.7 850C321.3 849.2 321.1 846.8 321.1 845.6C321.1 844.4 321.3 841.8 321.7 841.1C322.1 840.4 323.6 840.1 324.4 840C325.2 839.9 326.8 840.7 327.8 840.6C328.8 840.5 331.2 839.8 332.2 839.4C333.2 839 335.5 838.3 335.6 837.8C335.7 837.3 333.5 836.3 333.3 835.6C333.1 834.9 333.8 832.9 334.4 832.2C335 831.5 336.8 830.7 337.8 830C338.8 829.3 341.8 827.3 342.2 826.7C342.6 826.1 341.5 825.4 340.6 825.6C339.7 825.8 336.7 827.6 335.6 828.3C334.5 829 333.1 830.3 332.2 831.1C331.3 831.9 329.8 834.3 328.9 834.4C328 834.5 325.9 833.1 325.6 832.2C325.3 831.3 326.1 828.7 326.7 827.8C327.3 826.9 329.4 826.2 330 825.6C330.6 825 331.2 823.5 331.1 822.8C331 822.1 329.6 820.1 328.9 820C328.2 819.9 326.2 821.3 325.6 822.2C325 823.1 324.8 825.6 324.4 826.7C324 827.8 323.1 829.9 322.2 830.6C321.3 831.3 319.1 832.3 317.8 832.2C316.5 832.1 313.2 830.7 312.2 830C311.2 829.3 309.9 827.4 310 826.7C310.1 826 312.1 825 313.3 824.4C314.5 823.8 318 823.2 318.9 822.2C319.8 821.2 320.6 818 320.6 816.7C320.6 815.4 319.4 812.5 318.9 812.2C318.4 811.9 317.4 813.5 316.7 814.4C316 815.3 314.3 818.2 313.3 818.9C312.3 819.6 310 820.3 308.9 820C307.8 819.7 305.6 817.6 305 816.7C304.4 815.8 304.2 813.9 303.9 812.8C303.6 811.7 303.5 809.2 302.8 808.3C302.1 807.4 299.1 806.5 298.3 805.6C297.5 804.7 296.6 802.9 296.7 801.7C296.8 800.5 298.2 797.5 298.9 796.1C299.5 794.7 301.1 792 301.7 790.6C302.3 789.2 303.6 786.2 303.9 785.6C304.2 785 303.4 785.2 303.9 785.6Z" fill="#e8b922" stroke="#fff" stroke-width="2.9" stroke-linejoin="round"/>
<path d="M527.5 745.5C528.5 745.1 532.7 743.2 535 742.5C537.3 741.8 543 741 545 740C547 739 548.5 736 550 735C551.5 734 554.2 732.5 556.2 732.5C558.2 732.5 563.2 734 565 735C566.8 736 568.7 738.9 570 740C571.3 741.1 573 743.1 575 743.8C577 744.4 582.4 744.5 585 745C587.6 745.5 592.7 746.5 595 747.5C597.3 748.5 600.5 751 602.5 752.5C604.5 754 610.8 756.1 610 758.8C609.2 761.5 599.7 770.1 596.7 773.3C593.7 776.5 589.3 780.7 586.7 783.3C584.1 785.9 579.3 790.7 576.7 793.3C574.1 795.9 568.7 801.1 566.7 803.3C564.8 805.5 562.1 807.4 561.7 810C561.3 812.6 563.5 820.3 563.3 823.3C563.1 826.3 560.9 830.3 560 833.3C559.1 836.3 558 843.2 556.7 846.7C555.4 850.2 552.2 857 550 860C547.8 863 542 867.3 540 870C538 872.7 536.2 879.4 535 880.7C533.8 882 532.2 880.4 531.1 880C530 879.6 527.7 878.4 526.7 877.8C525.7 877.2 524.2 876.5 523.3 875.6C522.4 874.7 520.9 872.2 520 871.1C519.1 870 517.9 868 516.7 867.2C515.5 866.4 512.1 865.8 511.1 865C510.1 864.2 509.3 862.3 508.9 861.1C508.5 859.9 508.1 857 507.8 855.6C507.5 854.2 507.3 851 506.7 850C506.1 849 504.3 848.2 503.3 847.8C502.3 847.4 499.9 847.1 498.9 846.7C497.9 846.3 496.2 845.1 495.6 844.4C495 843.7 494.3 841.9 494.4 841.1C494.5 840.3 496.2 838.7 496.7 838.3C497.2 837.9 498.2 838.4 498.3 837.8C498.4 837.1 497.4 834.5 497.2 833.3C497 832.1 496.8 830.1 496.7 828.9C496.6 827.7 496.2 825.6 496.1 824.4C496 823.2 495.6 821.1 495.6 820C495.6 818.9 496.1 817.4 496.1 816.3C496.1 815.2 495.3 813.3 495.6 811.9C495.9 810.5 497.6 807.4 498.5 805.9C499.4 804.4 501.3 801.4 502.2 800C503.1 798.6 504.1 795.6 505.2 794.8C506.3 794 509 794.4 510.4 794.1C511.8 793.8 514.2 793.2 515.6 792.6C517 792 520.4 790.8 521.5 789.6C522.6 788.4 523.6 785.2 524.4 783.7C525.2 782.2 526.7 779.5 527.4 777.8C528.1 776.1 529 772.2 529.6 770.4C530.2 768.6 532.2 765.6 531.9 763.7C531.6 761.8 528.5 757.5 527.4 755.6C526.3 753.7 523.7 750.2 523.7 748.9C523.7 747.6 527 745.9 527.5 745.5C528 745.1 526.5 745.9 527.5 745.5Z" fill="#e8b922" stroke="#fff" stroke-width="2.9" stroke-linejoin="round"/>
<path d="M491.2 751.2C492.9 751.7 497 755.2 498.8 755C500.6 754.8 503.2 751.3 505 750C506.8 748.7 510.6 746.3 512.5 745C514.5 743.7 518.4 740.2 520 740C521.6 739.8 524 743.1 525 743.8C526 744.5 527.7 744.8 527.5 745.5C527.3 746.2 523.7 747.6 523.7 748.9C523.7 750.2 526.3 753.7 527.4 755.6C528.5 757.5 531.6 761.8 531.9 763.7C532.2 765.6 530.2 768.6 529.6 770.4C529 772.2 528.1 776.1 527.4 777.8C526.7 779.5 525.2 782.2 524.4 783.7C523.6 785.2 522.6 788.4 521.5 789.6C520.4 790.8 517 792 515.6 792.6C514.2 793.2 511.8 793.8 510.4 794.1C509 794.4 506.3 794 505.2 794.8C504.1 795.6 503.1 798.6 502.2 800C501.3 801.4 499.4 804.4 498.5 805.9C497.6 807.4 495.9 810.5 495.6 811.9C495.3 813.3 496.1 815.2 496.1 816.3C496.1 817.4 495.6 818.9 495.6 820C495.6 821.1 496 823.2 496.1 824.4C496.2 825.6 496.6 827.7 496.7 828.9C496.8 830.1 497 832.1 497.2 833.3C497.4 834.5 498.4 837.3 498.3 837.8C498.2 838.3 497.5 837.6 496.7 837.2C495.9 836.8 493.4 835.6 492.2 835C491 834.4 488.9 832.9 487.8 832.2C486.7 831.5 484.8 830 483.9 829.4C483 828.8 481.7 827.7 481.1 827.8C480.5 827.9 479.7 829.3 479.4 830C479.1 830.7 479 832.3 478.9 833.3C478.8 834.3 478.6 836.8 478.3 837.8C478 838.8 477.2 840.6 476.7 841.1C476.2 841.6 475 841.4 474.4 841.7C473.8 842 472.1 842.6 471.7 843.3C471.3 843.9 471.3 845.5 471.1 846.7C470.9 847.9 470.3 850.8 470 852.2C469.7 853.6 469.2 856.4 468.9 857.8C468.6 859.2 468.1 861.9 467.8 863.3C467.5 864.7 466.9 867.5 466.7 868.9C466.5 870.3 467 873 466.1 873.7C465.2 874.4 461.7 874.4 460 874.4C458.3 874.4 455.1 874.1 453.3 873.9C451.5 873.7 447.1 873.4 446.1 872.8C445.1 872.1 445.5 870 445.6 868.9C445.7 867.8 446.3 865.6 446.7 864.4C447.1 863.2 448.3 861.1 448.9 860C449.5 858.9 450.7 856.8 451.1 855.6C451.5 854.4 452.3 851.7 451.7 851.1C451.1 850.5 448.5 851.2 446.7 851.1C444.9 851 440.1 850.4 437.8 850C435.5 849.6 430.9 848.5 428.9 847.8C426.9 847.1 423.8 845.4 422.2 844.4C420.6 843.4 417.6 841.4 416.7 840C415.8 838.6 416.3 834.7 415.6 833.3C414.9 831.9 412 830.3 411.1 828.9C410.2 827.5 409 824.2 408.9 822.2C408.8 820.2 408.8 814.6 410 813.3C411.2 812 415.9 812.8 417.8 812.2C419.7 811.6 423 809.9 424.4 808.9C425.8 807.9 427.4 805.4 428.9 804.4C430.4 803.4 433.3 801.6 435.6 801.1C437.9 800.6 444.1 800.7 446.7 800.7C449.3 800.7 454.6 801.8 455.6 801.1C456.6 800.4 455 797.3 454.4 795.6C453.8 793.9 450.7 788.5 451.1 787.8C451.5 787.1 455.8 789.8 457.8 790.4C459.8 791 464.7 791.7 466.7 792.2C468.7 792.7 471.9 793.8 473.3 794.4C474.7 795 476.8 796.8 477.8 796.7C478.8 796.6 480.5 794.6 481.1 793.3C481.7 792 481.8 788.7 482.2 786.7C482.6 784.7 483.9 780.1 484 777.8C484.1 775.5 483.2 771.2 483.3 768.9C483.4 766.6 484.1 762.3 484.4 760C484.7 757.7 484.7 752.2 485.6 751.1C486.5 750 489.5 750.7 491.2 751.2Z" fill="#de1f26" stroke="#fff" stroke-width="2.9" stroke-linejoin="round"/>
<path d="M236.7 285C238.4 285.3 246.5 286.3 250 287.3C253.5 288.3 260.1 291.5 263.3 292.7C266.6 293.9 272.8 296.6 275 296.7C277.2 296.8 279 292.7 280 293.3C281 293.9 282.5 299.1 282.7 301.7C282.9 304.3 281.5 310.1 281.7 313.3C281.9 316.6 283.8 323.2 284 326.7C284.2 330.2 283.8 337.6 283.3 340C282.8 342.4 281.5 344.1 280 345C278.5 345.9 273.2 345.2 271.7 346.7C270.2 348.2 268.6 353.7 268.3 356.7C268 359.7 269.5 366.5 269.3 370C269.1 373.5 267.3 380.1 266.7 383.3C266.1 386.6 265 392.6 265 395C265 397.4 264.8 401.5 266.7 401.7C268.6 401.9 276.1 397.7 280 396.7C283.9 395.7 294.5 394.4 296.7 394" fill="none" stroke="#fff" stroke-width="2.9" stroke-linejoin="round" stroke-linecap="round"/>
<path d="M296.7 394C296.7 391.8 296.5 381.5 296.7 376.7C296.9 371.9 297 359.6 298.3 356.7C299.6 353.8 303.4 354.7 306.7 354.3C309.9 353.9 319.8 353.6 323.3 353.3C326.8 353 331.9 353.6 333.3 351.7C334.7 349.8 333.1 341.1 334 338.3C334.9 335.5 337.5 332.2 340 330C342.5 327.8 349.8 323.2 353.3 321.7C356.8 320.2 364.6 320.5 366.7 318.3C368.8 316.1 368.4 307.6 369.3 305C370.2 302.4 371.5 299.4 373.3 298.3C375.1 297.2 381.8 297.6 383.3 296.7C384.8 295.8 383.3 291.6 385 291C386.7 290.4 393.9 291.4 396.7 291.7C399.5 292 404.1 293.4 406.7 293.3C409.3 293.2 415.4 291.3 416.7 291" fill="none" stroke="#fff" stroke-width="2.9" stroke-linejoin="round" stroke-linecap="round"/>
<path d="M296.7 394C298.6 393.9 308.2 393.2 311.7 393.3C315.2 393.4 320.1 394.4 323.3 395C326.6 395.6 333.2 397.3 336.7 397.7C340.2 398.1 347.3 397.6 350 398.3C352.7 399 356.2 401.4 357.3 403.3C358.4 405.2 357.5 410.9 358.3 413.3C359.1 415.7 362.2 419.1 363.3 421.7C364.4 424.3 365.6 430.7 366.7 433.3C367.8 435.9 370.4 439.3 371.7 441.7C373 444.1 376.1 450.4 376.7 451.7" fill="none" stroke="#fff" stroke-width="2.9" stroke-linejoin="round" stroke-linecap="round"/>
<path d="M208.3 436.7C209.8 437.1 216.3 439.3 220 440C223.7 440.7 232.4 441.9 236.7 442.3C241 442.7 249.4 442.7 253.3 443.3C257.2 443.9 263.9 445.6 266.7 446.7C269.5 447.8 273.8 449.5 275 451.7C276.2 453.9 276.4 460.5 276 463.3C275.6 466.1 273.1 471.4 271.7 473.3C270.3 475.2 266.3 476.4 265 478.3C263.7 480.2 261.9 485.9 261.7 488.3C261.5 490.7 262.7 494.4 263.3 496.7C263.9 499 265.8 505.8 266.7 506C267.6 506.2 267.8 500 270 498.3C272.2 496.6 281.1 495 283.3 493.3C285.5 491.6 286.7 487.8 286.7 485C286.7 482.2 283.5 474.3 283.3 471.7C283.1 469.1 283.1 466.3 285 465C286.9 463.7 296.1 463.2 298.3 461.7C300.5 460.2 301.5 455.7 301.7 453.3C301.9 450.9 301.1 445.2 300 443.3C298.9 441.4 295.7 439.6 293.3 438.3C290.9 437 283.4 434.6 281.7 433.3C280 432 278.9 429.6 280 428.3C281.1 427 286.8 424.3 290 423.3C293.2 422.3 301.5 421.1 305 420.7C308.5 420.3 314.5 419.2 316.7 420C318.9 420.8 320.6 424.5 321.7 426.7C322.8 428.9 324.1 434.3 325 436.7C325.9 439.1 326.4 443.7 328.3 445C330.2 446.3 336.8 446.9 340 446.7C343.2 446.5 350.3 444.4 353.3 443.3C356.3 442.2 361.6 439.6 363.3 438.3C365 437 366.3 433.9 366.7 433.3" fill="none" stroke="#fff" stroke-width="2.9" stroke-linejoin="round" stroke-linecap="round"/>
<path d="M436.7 302.7C436.9 304.5 437.9 312.7 438.3 316.7C438.7 320.7 439.6 329.4 440 333.3C440.4 337.2 441.1 342.8 441.7 346.7C442.3 350.6 444.1 359.8 445 363.3C445.9 366.8 448.1 370.9 448.3 373.3C448.5 375.7 448.2 380.2 446.7 381.7C445.2 383.2 438.9 383.9 436.7 385C434.5 386.1 431.1 387.6 430 390C428.9 392.4 428.5 399.8 428.3 403.3C428.1 406.8 429.2 413.9 428.3 416.7C427.4 419.5 423.6 422.8 421.7 425C419.8 427.2 415.7 431.4 413.3 433.3C410.9 435.2 406.8 438.7 403.3 440C399.8 441.3 389.7 442.2 386.7 443.3C383.7 444.4 381.3 447.2 380 448.3C378.7 449.4 377.1 451.3 376.7 451.7" fill="none" stroke="#fff" stroke-width="2.9" stroke-linejoin="round" stroke-linecap="round"/>
<path d="M376.7 451.7C376.3 452.8 373.8 457.6 373.3 460C372.8 462.4 372.5 467.4 372.7 470C372.9 472.6 374.3 477.6 375 480C375.7 482.4 377.2 488.1 378.3 488.3C379.4 488.5 380.9 483.4 383.3 481.7C385.7 480 393.2 476.3 396.7 475C400.2 473.7 407 472.3 410 471.7C413 471.1 418.1 469.4 420 470C421.9 470.6 423.5 475.4 425 476.7C426.5 478 430.4 478.3 431.7 480C433 481.7 434.4 487.4 435 490C435.6 492.6 438 497.8 436.7 500C435.4 502.2 425.6 505.1 425 506.7C424.4 508.3 428 511.5 431.7 512.5C435.4 513.5 450.3 511.9 453.3 514.2C456.3 516.5 455.5 527.5 455 530C454.5 532.5 448.9 531.8 449.2 533.3C449.5 534.8 457.4 538.9 457.5 541.7C457.6 544.5 450.5 552.1 450 555C449.5 557.9 451.6 563.2 453.3 564.2C455 565.2 460.3 562.4 463 562.5C465.7 562.6 472.4 564.7 473.8 565" fill="none" stroke="#fff" stroke-width="2.9" stroke-linejoin="round" stroke-linecap="round"/>
<path d="M454.5 564C454.5 564 451.7 570 451.7 570C451.7 570 445 577.5 445 577.5C445 577.5 435 569.2 435 569.2C435 569.2 417.5 569.2 417.5 569.2C417.5 569.2 417.5 623.8 417.5 623.8C417.5 623.8 432.5 624.2 432.5 624.2C432.5 624.2 445 622.5 445 622.5" fill="none" stroke="#fff" stroke-width="2.9" stroke-linejoin="round" stroke-linecap="round"/>
<path d="M203.3 506.7C205.5 506.7 216.5 506.1 220 506.7C223.5 507.3 227 509.5 230 511.7C233 513.9 240.3 520.7 243.3 523.3C246.3 525.9 251.6 529.5 253.3 531.7C255 533.9 256.1 537.4 256.7 540C257.3 542.6 256.6 549.3 258.3 551.7C260 554.1 267.8 556.4 270 558.3C272.2 560.2 273.7 564.5 275 566.2C276.3 567.9 277.7 570.4 280 571.2C282.3 572 289.2 571.4 292.5 572.5C295.8 573.6 302.1 578.4 305 580C307.9 581.6 312.1 583.9 315 585C317.9 586.1 324.2 587.5 327.5 588.8C330.8 590.1 337.1 593.5 340 595C342.9 596.5 347.1 599 350 600C352.9 601 359.2 601.9 362.5 602.5C365.8 603.1 372.6 604.7 375 605C377.4 605.3 380.4 604.6 381.2 604.5" fill="none" stroke="#fff" stroke-width="2.9" stroke-linejoin="round" stroke-linecap="round"/>
<path d="M427.3 418.3C428.3 418.9 433.8 421.2 435 422.7C436.2 424.2 435.4 428.7 436.7 430C438 431.3 443.1 433.3 445 432.7C446.9 432.1 449.3 426.7 451.7 425C454.1 423.3 460.5 421.1 463.3 420C466.1 418.9 470.7 417.5 473.3 416.7C475.9 415.9 481.6 414.9 483.3 414C485 413.1 485.6 410.5 486 410" fill="none" stroke="#fff" stroke-width="2.9" stroke-linejoin="round" stroke-linecap="round"/>
<path d="M486 410C485.6 409.1 482.1 405 483.3 403.3C484.5 401.6 493.8 400.2 495 396.7C496.2 393.2 493.1 381.9 492.7 376.7C492.3 371.5 490.3 360.4 491.7 356.7C493.1 353 500.1 350.7 503.3 348.3C506.6 345.9 514.3 340.5 516.7 338.3C519.1 336.1 521.1 331.9 521.7 331" fill="none" stroke="#fff" stroke-width="2.9" stroke-linejoin="round" stroke-linecap="round"/>
<path d="M521.7 331C521.3 330.6 519.4 328.9 518.3 328.3C517.2 327.7 514 328 513.3 326.7C512.6 325.4 511.8 319.7 512.7 318.3C513.6 316.9 516.9 316.3 520 316C523.1 315.7 533.7 315.7 536.7 316C539.7 316.3 541.8 317.6 543.3 318.3C544.8 319 546.1 321.3 548.3 321.7C550.5 322.1 557.4 322.5 560 321.7C562.6 320.9 567.2 316.5 568.3 315.7" fill="none" stroke="#fff" stroke-width="2.9" stroke-linejoin="round" stroke-linecap="round"/>
<path d="M521.7 331C522.4 332.2 525.4 339.4 526.7 340C528 340.6 530 336.8 531.7 336C533.4 335.2 537.8 334 540 334C542.2 334 546.6 334.8 548.3 336C550 337.2 551.8 341.5 553.3 343.3C554.8 345.1 558.3 348.5 560 350C561.7 351.5 565.6 353.3 566.7 355C567.8 356.7 567.2 361.6 568.3 363.3C569.4 365 573 367.2 575 368.3C577 369.4 581.8 370.2 583.3 371.7C584.8 373.2 586.7 377.6 586.7 380C586.7 382.4 583.1 387.6 583.3 390C583.5 392.4 586.8 396.4 588.3 398.3C589.8 400.2 594.8 403.1 595 405C595.2 406.9 591.1 411.4 590 413.3C588.9 415.2 587.1 418.5 586.7 419.3" fill="none" stroke="#fff" stroke-width="2.9" stroke-linejoin="round" stroke-linecap="round"/>
<path d="M486 410C487.4 410.4 493.8 413.1 496.7 413.3C499.6 413.5 506.1 411.1 508.3 411.7C510.5 412.3 511.3 416.6 513.3 418.3C515.2 420 520.7 423.3 523.3 425C525.9 426.7 531.1 429.8 533.3 431.7C535.5 433.6 538.9 437.2 540 440C541.1 442.8 541.7 450.3 541.7 453.3C541.7 456.3 539.1 461.1 540 463.3C540.9 465.5 546.3 468.1 548.3 470C550.2 471.9 554.1 477.2 555 478.3" fill="none" stroke="#fff" stroke-width="2.9" stroke-linejoin="round" stroke-linecap="round"/>
<path d="M586.7 419.3C585.4 419.6 579.3 420.5 576.7 421.7C574.1 422.9 569.1 426.4 566.7 428.3C564.3 430.2 559.8 434.3 558.3 436.7C556.8 439.1 555.4 443.7 555 446.7C554.6 449.7 554.7 457 555 460C555.3 463 557.3 467.6 557.3 470C557.3 472.4 555.5 476.1 555 478.3C554.5 480.5 552.9 484.8 553.3 486.7C553.7 488.6 557 492.4 558.3 493.3C559.6 494.2 562.6 493.3 563.3 493.3" fill="none" stroke="#fff" stroke-width="2.9" stroke-linejoin="round" stroke-linecap="round"/>
<path d="M623.3 310C624.6 310 630.3 310.6 633.3 310C636.3 309.4 643.7 305.9 646.7 305C649.7 304.1 655 302.2 656.7 303.3C658.4 304.4 658.3 311.6 660 313.3C661.7 315 667.6 316.2 670 316.7C672.4 317.2 676.8 316 678.3 317.3C679.8 318.6 681.1 324 681.7 326.7C682.4 329.4 683.1 336.8 683.3 338.3" fill="none" stroke="#fff" stroke-width="2.9" stroke-linejoin="round" stroke-linecap="round"/>
<path d="M683.3 338.3C682 338.7 675.9 341.1 673.3 341.7C670.7 342.3 665.2 342 663.3 343.3C661.3 344.6 659.6 349.1 658.3 351.7C657 354.3 654.4 360.7 653.3 363.3C652.2 365.9 652.2 370 650 371.7C647.8 373.4 639.7 375.4 636.7 376.7C633.7 378 629.1 380.4 626.7 381.7C624.3 383 619.2 385.2 618.3 386.7C617.4 388.2 618.7 392.2 620 393.3C621.3 394.4 627.2 393.7 628.3 395C629.4 396.3 627.6 401.1 628.3 403.3C628.9 405.5 631.8 409.5 633.3 411.7C634.8 413.9 637.8 418.1 640 420C642.2 421.9 647.4 425.4 650 426.7C652.6 428 657.6 429.4 660 430C662.4 430.6 667.6 430.8 668.3 431.7C668.9 432.6 666.5 435.4 665 436.7C663.5 438 658.2 440.4 656.7 441.7C655.2 443 655 446.3 653.3 446.7C651.6 447.1 645.7 445.4 643.3 445C640.9 444.6 636.3 444.6 635 443.3C633.7 442 633.9 437.2 633.3 435C632.6 432.8 631.7 428 630 426.7C628.3 425.4 622.6 425.4 620 425C617.4 424.6 612.6 423.7 610 423.3C607.4 422.9 603 422.2 600 421.7C597 421.2 588.4 419.6 586.7 419.3" fill="none" stroke="#fff" stroke-width="2.9" stroke-linejoin="round" stroke-linecap="round"/>
<path d="M683.3 338.3C684.6 339.4 691.6 343.9 693.3 346.7C695 349.5 695.8 356.5 696.7 360C697.6 363.5 698.9 369.4 700 373.3C701.1 377.2 703.9 385.7 705 390C706.1 394.3 707.4 402.4 708.3 406.7C709.2 411 711.3 420.6 711.7 422.7" fill="none" stroke="#fff" stroke-width="2.9" stroke-linejoin="round" stroke-linecap="round"/>
<path d="M711.7 422.7C710.6 423.6 705.7 427.8 703.3 430C700.9 432.2 695.5 437.4 693.3 440C691.1 442.6 688.2 447.2 686.7 450C685.2 452.8 681.7 459.1 681.7 461.7C681.7 464.3 685.2 467.8 686.7 470C688.2 472.2 691.8 475.9 693.3 478.3C694.8 480.7 697.6 485.5 698.3 488.3C698.9 491.1 698.9 497.6 698.3 500C697.6 502.4 692.6 504.5 693.3 506.7C693.9 508.9 701.1 514.1 703.3 516.7C705.5 519.3 708.7 523.9 710 526.7C711.3 529.5 712.6 536.1 713.3 538.3C713.9 540.5 714.8 542.6 715 543.3" fill="none" stroke="#fff" stroke-width="2.9" stroke-linejoin="round" stroke-linecap="round"/>
<path d="M711.7 422.7C713 422.6 718.9 421.2 721.7 421.7C724.5 422.2 730.5 424.8 733.3 426.7C736.1 428.6 741.1 433.7 743.3 436.7C745.5 439.7 748.7 446.5 750 450C751.3 453.5 752.6 460.5 753.3 463.3C753.9 466.1 753.6 470.6 755 471.7C756.4 472.8 763.1 471.7 764.3 471.7" fill="none" stroke="#fff" stroke-width="2.9" stroke-linejoin="round" stroke-linecap="round"/>
<path d="M806.7 299C806.9 300.4 807.3 307 808.3 310C809.3 313 814.3 318.7 814.3 321.7C814.3 324.7 809.9 330.5 808.3 333.3C806.7 336.1 802.4 340.3 801.7 343.3C801 346.3 802.7 353.2 802.7 356.7C802.7 360.2 802.3 366.1 801.7 370C801.1 373.9 798.7 383.2 798.3 386.7C797.9 390.2 797.2 394.8 798.3 396.7C799.4 398.6 805.5 400.4 806.7 401.7C807.9 403 808.2 404.8 807.3 406.7C806.4 408.6 801.6 414.1 800 416.7C798.4 419.3 796.1 423.7 795 426.7C793.9 429.7 793.4 437.4 791.7 440C790 442.6 784.5 445.2 781.7 446.7C778.9 448.2 772 450 770 451.7C768 453.4 766.7 457.4 766 460C765.3 462.6 764.5 470.2 764.3 471.7" fill="none" stroke="#fff" stroke-width="2.9" stroke-linejoin="round" stroke-linecap="round"/>
<path d="M759 472.3C758.7 473.7 756.3 480.6 756.7 483.3C757.1 486 760 490.7 761.7 493.3C763.4 495.9 767.8 500.9 770 503.3C772.2 505.7 777.2 510.6 778.3 511.7" fill="none" stroke="#fff" stroke-width="2.9" stroke-linejoin="round" stroke-linecap="round"/>
<path d="M142.5 613.8C144.1 613.1 151.4 610.4 155 608.8C158.6 607.2 166.1 603.2 170 601.2C173.9 599.2 181.1 595.8 185 593.8C188.9 591.8 196.9 588.3 200 586.2C203.1 584.1 206.9 579.2 208.8 577.5C210.8 575.8 213.4 573.2 215 573C216.6 572.8 219.2 575 221.2 576.2C223.1 577.4 227.6 581.1 230 582.5C232.4 583.9 237.7 586.6 240 587C242.3 587.4 247 584.8 247.5 585.5C248 586.2 244.8 590.5 243.8 592.5C242.8 594.5 240.2 598.9 240 601.2C239.8 603.5 241.5 607.4 242.5 610C243.5 612.6 246.2 618.3 247.5 621.2C248.8 624.1 251.2 629.6 252.5 632.5C253.8 635.4 256.2 641.2 257.5 643.8C258.8 646.4 261.9 651.4 262.5 652.5" fill="none" stroke="#fff" stroke-width="2.9" stroke-linejoin="round" stroke-linecap="round"/>
<path d="M262.5 652.5C263.8 652.3 269.6 651.5 272.5 651.2C275.4 650.9 282.1 649.8 285 650C287.9 650.2 292.9 651.7 295 652.5C297.1 653.3 299.2 655.9 301.2 656.2C303.1 656.5 307.6 655.3 310 655C312.4 654.7 317.7 654.3 320 653.8C322.3 653.3 325.9 651.7 327.5 651.2C329.1 650.7 331.9 650.2 332.5 650" fill="none" stroke="#fff" stroke-width="2.9" stroke-linejoin="round" stroke-linecap="round"/>
<path d="M295 652.5C294.5 653.8 292 659.9 291.2 662.5C290.4 665.1 289 669.9 288.8 672.5C288.6 675.1 289.5 680.2 290 682.5C290.5 684.8 291.9 688.2 292.5 690C293.1 691.8 294.7 695.4 295 696.2" fill="none" stroke="#fff" stroke-width="2.9" stroke-linejoin="round" stroke-linecap="round"/>
<path d="M262.5 652.5C261.2 653 254.8 655.2 252.5 656.2C250.2 657.2 247.1 658.9 245 660C242.9 661.1 238.1 663.7 236.2 665C234.2 666.3 231 668.4 230 670C229 671.6 228.5 675.2 228.8 677.5C229.1 679.8 231.8 684.6 232.5 687.5C233.2 690.4 233.8 696.8 233.8 700C233.8 703.2 233 710.1 232.5 712.5C232 714.9 230.3 718 230 718.8" fill="none" stroke="#fff" stroke-width="2.9" stroke-linejoin="round" stroke-linecap="round"/>
<path d="M138.8 658.8C139.8 659 144.6 659.2 146.2 660C147.8 660.8 150.1 663.5 151.2 665C152.3 666.5 154.5 669.2 155 671.2C155.5 673.2 154.3 677.9 155 680C155.7 682.1 158.4 685.5 160 687.5C161.6 689.5 165.4 693.5 167.5 695C169.6 696.5 174.2 699.1 176.2 698.8C178.1 698.5 180.7 693.5 182.5 692.5C184.3 691.5 188.7 690.7 190 691.2C191.3 691.7 191 695.7 192.5 696.2C194 696.7 199.6 694.2 201.2 695C202.8 695.8 204.2 700.5 205 702.5C205.8 704.5 206.8 708.2 207.5 710C208.2 711.8 209.7 714.9 210 716.2C210.3 717.5 208.7 719.7 210 720C211.3 720.3 217.4 719 220 718.8C222.6 718.6 228.7 718.8 230 718.8" fill="none" stroke="#fff" stroke-width="2.9" stroke-linejoin="round" stroke-linecap="round"/>
<path d="M230 718.8C231 718.1 235.6 713.8 237.5 713.8C239.4 713.8 243.1 717.7 245 718.8C246.9 719.9 250.9 721.7 252.5 722.5C254.1 723.3 255.9 724.8 257.5 725C259.1 725.2 264 724 265 723.8" fill="none" stroke="#fff" stroke-width="2.9" stroke-linejoin="round" stroke-linecap="round"/>
<path d="M137.5 760C138.8 759.8 144.6 759.1 147.5 758.8C150.4 758.5 157.1 758.1 160 757.5C162.9 756.9 168.2 755.3 170 753.8C171.8 752.3 171.5 747.2 173.8 746.2C176.1 745.2 183.4 746.3 187.5 746.2C191.6 746.1 200.4 745.5 205 745.5C209.6 745.5 219.2 745.9 222.5 746.2C225.8 746.5 228.4 746.5 230 747.5C231.6 748.5 233.4 752.2 235 753.8C236.6 755.4 240.6 758.5 242.5 760C244.4 761.5 247.4 763.8 250 765C252.6 766.2 260.9 768.9 262.5 769.5" fill="none" stroke="#fff" stroke-width="2.9" stroke-linejoin="round" stroke-linecap="round"/>
<path d="M551.2 566.2C552 567.3 555.4 573 557.5 575C559.6 577 565.1 580.1 567.5 581.2C569.9 582.3 574.9 582.7 576.2 583.8C577.5 584.9 578.3 588.2 577.5 590C576.7 591.8 571.5 595.4 570 597.5C568.5 599.6 566.4 603.9 566.2 606.2C566 608.5 567.3 613.2 568.8 615C570.3 616.8 574.7 619 577.5 620C580.3 621 586.8 622 590 622.5C593.2 623 599.9 623.5 602.5 623.8C605.1 624.1 608.6 624.4 610 625C611.4 625.6 612.6 628.3 613 628.8" fill="none" stroke="#fff" stroke-width="2.9" stroke-linejoin="round" stroke-linecap="round"/>
<path d="M613 628.8C613.9 628.5 617.8 626.9 620 626.2C622.2 625.6 627.4 624.6 630 623.8C632.6 623 637 621.8 640 620C643 618.2 649.8 612.6 653.3 610C656.8 607.4 663.2 602 666.7 600C670.2 598 677.4 596.1 680 595C682.6 593.9 685.8 594.1 686.7 591.7C687.6 589.3 686.9 580.8 686.7 576.7C686.5 572.6 685.4 563.5 685 560C684.6 556.5 683.5 551.3 683.3 550" fill="none" stroke="#fff" stroke-width="2.9" stroke-linejoin="round" stroke-linecap="round"/>
<path d="M613 628.8C612.3 629.3 609.5 631.9 607.5 632.5C605.5 633.1 599.1 632.8 597.5 633.8C595.9 634.8 594.8 638.2 595 640C595.2 641.8 599.1 645.5 598.8 647.5C598.5 649.5 594.3 653.2 592.5 655C590.7 656.8 586.3 659.9 585 661.2C583.7 662.5 582.8 664.5 582.5 665" fill="none" stroke="#fff" stroke-width="2.9" stroke-linejoin="round" stroke-linecap="round"/>
<path d="M480 654.5C480.2 655.5 480.6 660.5 481.2 662.5C481.8 664.5 484.4 667.7 485 670C485.6 672.3 485.9 677.4 486.2 680C486.5 682.6 486.7 688 487.5 690C488.3 692 492 693.4 492.5 695C493 696.6 492 700.5 491.2 702.5C490.4 704.5 487.7 708.2 486.2 710C484.7 711.8 481.3 714.4 480 716.2C478.7 718 476.7 722.8 476.2 723.8" fill="none" stroke="#fff" stroke-width="2.9" stroke-linejoin="round" stroke-linecap="round"/>
<path d="M365 687.5C364.7 688.5 363 692.7 362.5 695C362 697.3 362 702.4 361.2 705C360.4 707.6 357.7 712.4 356.2 715C354.7 717.6 351.1 722.4 350 725C348.9 727.6 348.5 733 347.5 735C346.5 737 344.1 739.2 342.5 740C340.9 740.8 336.3 741.9 335 741.2C333.7 740.6 334.4 736 332.5 735C330.6 734 322.9 733.8 320 733.8C317.1 733.8 311.9 734.4 310 735C308.1 735.6 306 737.2 305 738.8C304 740.4 303.1 745.4 302.5 747.5C301.9 749.6 299.8 753.4 300 755C300.2 756.6 303.8 758.4 303.8 760C303.8 761.6 301.1 766 300 767.5C298.9 769 295.8 770.2 295 771.2C294.2 772.2 293.4 774.3 294 775.5C294.6 776.7 298.2 779.2 299.5 780.5C300.8 781.8 303.3 784.9 303.9 785.6" fill="none" stroke="#fff" stroke-width="2.9" stroke-linejoin="round" stroke-linecap="round"/>
<path d="M477.8 796.7C477.2 797.3 474.2 800.2 473.3 801.1C472.4 802 470.7 803.3 470.6 803.9C470.5 804.5 471.4 805.3 472.2 805.6C473 805.9 475.4 806 476.7 806.1C478 806.2 480.9 806.4 482.2 806.7C483.5 807 485.7 807.7 486.7 808.3C487.7 808.9 489.1 810.4 490 811.1C490.9 811.8 492.5 813.2 493.3 813.9C494.1 814.6 495.7 816 496.1 816.3" fill="none" stroke="#fff" stroke-width="2.9" stroke-linejoin="round" stroke-linecap="round"/>
<path d="M455.6 801.1C455.7 801 456.1 799.7 456.7 800C457.3 800.3 459.4 802.1 460 803.3C460.6 804.5 461.4 807.3 461.7 808.9C462 810.5 462.3 813.9 462.2 815.6C462.1 817.3 461.5 820.5 461.1 822.2C460.7 823.9 459.8 827.2 459.4 828.9C459 830.6 458.3 833.9 457.8 835.6C457.3 837.3 456.2 840.6 455.6 842.2C455 843.8 453.8 846.6 453.3 847.8C452.8 849 451.9 850.7 451.7 851.1" fill="none" stroke="#fff" stroke-width="2.9" stroke-linejoin="round" stroke-linecap="round"/>
<path d="M428.9 740C429.8 740.4 434.2 742.1 435.6 743.3C437 744.5 439.6 747.3 440 748.9C440.4 750.5 439.5 754 438.9 755.6C438.3 757.2 435.6 759.5 435.6 761.1C435.6 762.7 437.9 766.2 438.9 767.8C439.9 769.4 442.4 771.7 443.3 773.3C444.2 774.9 444.6 778.1 445.6 780C446.6 781.9 450.4 786.8 451.1 787.8" fill="none" stroke="#fff" stroke-width="2.9" stroke-linejoin="round" stroke-linecap="round"/>
<path d="M402.2 836.4C402.8 836.6 406.6 837.4 406.7 838.3C406.8 839.2 404.2 841.9 403.3 843.3C402.4 844.7 400.9 847.5 400 848.9C399.1 850.3 397.3 853 396.7 854.4C396.1 855.8 395.3 858.5 395 860C394.7 861.5 394.8 864.2 394.4 865.6C394 867 392.6 869.8 392.2 871.1C391.8 872.4 391.4 874.4 391.7 875.6C392 876.8 393.8 879 394.4 880C395 881 395.8 883 396.7 883.3C397.6 883.6 400.1 882.4 401.1 882.2C402.1 882 403.5 881.4 404.4 881.7C405.3 882 407.1 883.5 407.8 884.4C408.5 885.3 409.4 887.6 410 888.9C410.6 890.2 412.4 893.5 412.8 894.2" fill="none" stroke="#fff" stroke-width="2.9" stroke-linejoin="round" stroke-linecap="round"/>
<path d="M466.1 873.7C466.4 874.2 467.7 876.7 468.3 877.8C468.9 878.9 470.1 880.9 470.6 882.2C471.1 883.5 471.8 886.5 472.2 887.8C472.6 889.1 473 891.3 473.3 892.2C473.6 893.1 474.3 894.6 474.4 895" fill="none" stroke="#fff" stroke-width="2.9" stroke-linejoin="round" stroke-linecap="round"/>
<path d="M415.6 874.4C415.9 875.1 417.4 878.3 417.8 880C418.2 881.7 418.6 885.6 418.9 887.8C419.2 890 419.8 894.4 420 896.7C420.2 899 420.5 904.4 420.6 905.6" fill="none" stroke="#fcfbf9" stroke-width="3" stroke-linecap="round"/>
<path d="M418.9 875.6 L418 880" fill="none" stroke="#fcfbf9" stroke-width="3" stroke-linecap="round"/>
<path d="M430 882.2C430.1 883.2 431.1 887.8 431.1 890C431.1 892.2 430.4 896.7 430 898.9C429.6 901.1 428.5 905.7 428.3 906.7" fill="none" stroke="#fcfbf9" stroke-width="3" stroke-linecap="round"/>
<path d="M436.7 880C437 881 438.3 885.9 438.9 887.8C439.5 889.7 440.8 893.5 441.1 894.4" fill="none" stroke="#fcfbf9" stroke-width="3" stroke-linecap="round"/>
<path d="M425.6 884.4C426 885.7 428.2 891.8 428.9 894.4C429.6 897 430.8 903.1 431.1 904.4" fill="none" stroke="#fcfbf9" stroke-width="3" stroke-linecap="round"/>
<path d="M433.3 881.1C433.9 882.1 436.6 886.9 437.8 888.9C439 890.9 441.6 895.7 442.2 896.7" fill="none" stroke="#fcfbf9" stroke-width="3" stroke-linecap="round"/>
<path d="M303.3 808.9C303.9 808.5 306.2 806.4 307.8 805.6C309.4 804.8 314.6 803.2 315.6 802.8" fill="none" stroke="#fcfbf9" stroke-width="3" stroke-linecap="round"/>
<path d="M316.7 814.4 L318.3 817.8" fill="none" stroke="#fcfbf9" stroke-width="3" stroke-linecap="round"/>
<circle cx="442.20000000000005" cy="897" r="2.4" fill="none" stroke="#fcfbf9" stroke-width="2.6"/>
<text x="321" y="289.5" font-size="17.4" text-anchor="middle" fill="#fff">Sokoto</text>
<text x="478" y="339" font-size="17.4" text-anchor="middle" fill="#fff">Katsina</text>
<text x="607" y="348.5" font-size="17.4" text-anchor="middle" fill="#fff">Jigawa</text>
<text x="740" y="347.5" font-size="17.4" text-anchor="middle" fill="#fff">Yobe</text>
<text x="849" y="386.5" font-size="17.4" text-anchor="middle" fill="#fff">Borno</text>
<text x="373" y="379.5" font-size="17.4" text-anchor="middle" fill="#fff">Zamfara</text>
<text x="531" y="397" font-size="17.4" text-anchor="middle" fill="#fff">Kano</text>
<text x="235" y="420.5" font-size="17.4" text-anchor="middle" fill="#fff">Kebbi</text>
<text x="502" y="496.5" font-size="17.4" text-anchor="middle" fill="#fff">Kaduna</text>
<text x="620" y="496.5" font-size="17.4" text-anchor="middle" fill="#fff">Bauchi</text>
<text x="735" y="516.5" font-size="17.4" text-anchor="middle" fill="#fff">Gombe</text>
<text x="339" y="529.5" font-size="17.4" text-anchor="middle" fill="#fff">Niger</text>
<text x="799" y="553.5" font-size="17.4" text-anchor="middle" fill="#fff">Adamawa</text>
<text x="622" y="583.5" font-size="17.4" text-anchor="middle" fill="#fff">Plateau</text>
<text x="515" y="626.5" font-size="17.4" text-anchor="middle" fill="#fff">Nasarawa</text>
<text x="291" y="615.5" font-size="17.4" text-anchor="middle" fill="#fff">Kwara</text>
<text x="189" y="646.5" font-size="17.4" text-anchor="middle" fill="#fff">Oyo</text>
<text x="692" y="677.5" font-size="17.4" text-anchor="middle" fill="#fff">Taraba</text>
<text x="414" y="685.5" font-size="17.4" text-anchor="middle" fill="#fff">Kogi</text>
<text x="312" y="680.5" font-size="17.4" text-anchor="middle" fill="#fff">Ekiti</text>
<text x="264" y="693.5" font-size="17.4" text-anchor="middle" fill="#fff">Osun</text>
<text x="547" y="712.5" font-size="17.4" text-anchor="middle" fill="#fff">Benue</text>
<text x="313.5" y="726.5" font-size="17.4" text-anchor="middle" fill="#fff">Ondo</text>
<text x="179" y="732.2" font-size="17.4" text-anchor="middle" fill="#fff">Ogun</text>
<text x="341" y="769.5" font-size="17.4" text-anchor="middle" fill="#fff">Edo</text>
<text x="369" y="832.5" font-size="16.8" text-anchor="middle" fill="#fff">Delta</text>
<text x="436" y="832.5" font-size="17.4" text-anchor="middle" fill="#fff">Imo</text>
<text x="441" y="597" font-size="13.2" text-anchor="middle" fill="#fff">F.C.T</text>
<text x="442" y="611.5" font-size="13.2" text-anchor="middle" fill="#fff">Abuja</text>
<text x="462.5" y="767.5" font-size="12.5" text-anchor="middle" fill="#fff">Enugu</text>
<text x="506.3" y="778.7" font-size="12.3" text-anchor="middle" fill="#fff">Ebonyi</text>
<text x="432" y="794" font-size="7.5" text-anchor="middle" fill="#fff">Anambra</text>
<text x="478" y="823" font-size="12" text-anchor="middle" fill="#fff">Abia</text>
<text x="530.5" y="825.3" font-size="16.5" text-anchor="middle" fill="#fff">Cross</text>
<text x="527" y="844" font-size="16" text-anchor="middle" fill="#fff">River</text>
<text x="418" y="868.5" font-size="12" text-anchor="middle" fill="#fff">Rivers</text>
<text x="491" y="868.5" font-size="12.2" text-anchor="middle" fill="#fff">Akwa</text>
<text x="490" y="882.5" font-size="12.2" text-anchor="middle" fill="#fff">ibom</text>
<text x="362" y="884" font-size="12" text-anchor="middle" fill="#fff">Bayelsa</text>
<text x="216" y="775" font-size="10.5" text-anchor="middle" fill="#2b8a99">Lagos</text>
</g>
<g id="legend" font-size="19.4" fill="#173f4f" letter-spacing="0.41">
<circle cx="742.9" cy="814.7" r="13.2" fill="#1d93a1"/>
<circle cx="742.9" cy="851.6" r="13.2" fill="#e8b922"/>
<circle cx="742.9" cy="891.8" r="13.2" fill="#f58220"/>
<circle cx="742.9" cy="932.2" r="13.2" fill="#de1f26"/>
<text x="774" y="824.2">Not Owing</text>
<text x="774" y="857.9">1-2 months</text>
<text x="774" y="898.1">3-5 months</text>
<text x="774" y="939">6 months and above</text>
</g>
<g id="icons">
<rect x="866.85" y="48.52" width="95.75" height="86.57" rx="3.5" fill="#eef0f8" stroke="#1c2a4a" stroke-width="1.2"/>
<path d="M866.85 64.41 L866.85 52.02 Q866.85 48.52 870.35 48.52 L959.1 48.52 Q962.6 48.52 962.6 52.02 L962.6 64.41Z" fill="#5b9fdc" stroke="#1c2a4a" stroke-width="1.2"/>
<rect x="883.35" y="38.94" width="5.71" height="18.95" rx="2.6" fill="#b4b4bd" stroke="#1c2a4a" stroke-width="1"/>
<rect x="911.26" y="38.94" width="5.70" height="18.95" rx="2.6" fill="#b4b4bd" stroke="#1c2a4a" stroke-width="1"/>
<rect x="939.98" y="38.94" width="5.71" height="18.95" rx="2.6" fill="#b4b4bd" stroke="#1c2a4a" stroke-width="1"/>
<circle cx="921.24" cy="79.08" r="3.9" fill="#5b8fc9" stroke="#1c2a4a" stroke-width="1.2"/>
<circle cx="934.69" cy="79.08" r="3.9" fill="#d9d9ec" stroke="#1c2a4a" stroke-width="1.2"/>
<circle cx="947.93" cy="79.08" r="3.9" fill="#d9d9ec" stroke="#1c2a4a" stroke-width="1.2"/>
<circle cx="881.11" cy="92.93" r="3.9" fill="#d9d9ec" stroke="#1c2a4a" stroke-width="1.2"/>
<circle cx="894.35" cy="92.93" r="3.9" fill="#d9d9ec" stroke="#1c2a4a" stroke-width="1.2"/>
<circle cx="908.0" cy="92.93" r="3.9" fill="#d9d9ec" stroke="#1c2a4a" stroke-width="1.2"/>
<circle cx="921.24" cy="92.93" r="3.9" fill="#d9d9ec" stroke="#1c2a4a" stroke-width="1.2"/>
<circle cx="934.69" cy="92.93" r="3.9" fill="#d9d9ec" stroke="#1c2a4a" stroke-width="1.2"/>
<circle cx="947.93" cy="92.93" r="3.9" fill="#d9d9ec" stroke="#1c2a4a" stroke-width="1.2"/>
<circle cx="881.11" cy="106.98" r="3.9" fill="#d9d9ec" stroke="#1c2a4a" stroke-width="1.2"/>
<circle cx="894.35" cy="106.98" r="3.9" fill="#d9d9ec" stroke="#1c2a4a" stroke-width="1.2"/>
<circle cx="908.0" cy="106.98" r="3.9" fill="#d9d9ec" stroke="#1c2a4a" stroke-width="1.2"/>
<circle cx="921.24" cy="106.98" r="3.9" fill="#d9d9ec" stroke="#1c2a4a" stroke-width="1.2"/>
<circle cx="934.69" cy="106.98" r="3.9" fill="#d9d9ec" stroke="#1c2a4a" stroke-width="1.2"/>
<circle cx="881.11" cy="120.84" r="3.9" fill="#d9d9ec" stroke="#1c2a4a" stroke-width="1.2"/>
<circle cx="894.35" cy="120.84" r="3.9" fill="#d9d9ec" stroke="#1c2a4a" stroke-width="1.2"/>
<circle cx="908.0" cy="120.84" r="3.9" fill="#d9d9ec" stroke="#1c2a4a" stroke-width="1.2"/>
<circle cx="921.24" cy="120.84" r="3.9" fill="#d8325f" stroke="#c02a55" stroke-width="1.2"/>
<path d="M934.08 142.22 L931.02 134.08 L932.04 121.85 L938.15 109.63 L946.3 101.48 L950.37 98.43 L944.67 91.3 L947.32 87.83 L960.56 87.22 L956.89 79.08 L962.6 77.65 L970.74 80.7 L978.89 77.65 L983.98 79.08 L981.95 87.22 L993.15 86.82 L995.6 90.28 L991.11 98.43 L999.26 105.56 L1006.39 115.74 L1009.45 127.96 L1008.43 140.19 L1004.36 143.24 L999.26 144.67 L997.63 150.78 L942.22 151.39 L940.19 144.67Z" fill="#dfa02c" stroke="#dfa02c" stroke-width="1.5" stroke-linejoin="round"/>
<path d="M940.59 150.37 L939.17 134.08 L942.22 117.78 L950.37 105.56 L960.56 98.43 L958.93 94.96 L981.34 94.96 L979.91 98.43 L989.08 105.56 L997.23 117.78 L1000.28 134.08 L999.26 150.37Z" fill="#f6b832" stroke="#f6b832" stroke-width="2" stroke-linejoin="round"/>
<path d="M960.15 94.56 L956.89 79.48 L962.6 78.06 L970.74 81.11 L978.89 78.06 L983.58 79.48 L980.93 94.56Z" fill="#f6b832" stroke="#f6b832" stroke-width="1.5" stroke-linejoin="round"/>
<rect x="958.52" y="92.93" width="23.22" height="4.07" rx="1.5" fill="#c9943c"/>
<rect x="944.67" y="99.45" width="15.89" height="3.05" rx="1" fill="#c9943c"/>
<rect x="980.93" y="99.45" width="14.26" height="3.05" rx="1" fill="#c9943c"/>
<path d="M950.37 105.56 L960.56 98.43 L979.91 98.43 L989.08 105.56Z" fill="#f6b832"/>
<text x="967.08" y="138.15" font-size="26" font-weight="bold" text-anchor="middle" fill="#fffdf0">N</text>
<rect x="953.43" y="123.2" width="27.50" height="2.2" fill="#fffdf0"/>
<rect x="953.43" y="129.51000000000002" width="27.50" height="2.2" fill="#fffdf0"/>
</g>
<text x="74" y="946.6" font-size="12.9" font-style="italic" fill="#1d3f4f" font-weight="bold"><tspan fill="#2a8d96">Source:</tspan> BudgIT's Field Research</text>
<rect x="73" y="970.2" width="934" height="1.5" fill="#2a6470"/>
<text x="74" y="1030.8" font-size="24" fill="#1e3f4d" letter-spacing="0.75">www.yourbudgit.com</text>
<rect x="332" y="999" width="1.6" height="50" fill="#5a6e78"/>
<text x="421" y="1029.1" font-size="21.5" fill="#1a4658" letter-spacing="0.6">BudgITng</text>
<g id="footer">
<circle cx="363.7" cy="1024.1" r="13.8" fill="#14506a"/>
<path d="M23.95 4.57a10 10 0 0 1-2.82.77 4.96 4.96 0 0 0 2.16-2.72c-.95.56-2 .96-3.13 1.19a4.92 4.92 0 0 0-8.39 4.49A13.98 13.98 0 0 1 1.64 3.16a4.82 4.82 0 0 0-.67 2.48c0 1.71.87 3.21 2.19 4.1a4.9 4.9 0 0 1-2.23-.62v.06a4.93 4.93 0 0 0 3.95 4.83 4.96 4.96 0 0 1-2.21.08 4.94 4.94 0 0 0 4.6 3.42A9.87 9.87 0 0 1 0 19.54a13.94 13.94 0 0 0 7.55 2.21c9.05 0 14-7.5 14-13.98 0-.21 0-.42-.02-.63a9.94 9.94 0 0 0 2.46-2.55z" fill="#fff" transform="translate(355.4,1016.4) scale(0.66)"/>
<circle cx="394.6" cy="1024.1" r="14" fill="#14506a"/>
<path d="M13.5 22v-9h3l.5-3.5h-3.5V7.3c0-1 .3-1.7 1.8-1.7H17V2.5c-.3 0-1.400-.1-2.600-.1-2.600 0-4.400 1.600-4.400 4.500v2.600H7V13h3v9z" fill="#fff" transform="translate(385.3,1013.6) scale(0.80)"/>
<text x="878.6" y="1031.3" font-size="40.8" font-weight="bold" fill="#155a73" letter-spacing="-2.6">budg</text>
<path d="M969.63 1009.63 L973.7 1009.63 L973.7 1032.22 L969.63 1032.22Z" fill="#1f9c9c"/>
<path d="M969.63 1001.67 L973.7 1001.11 L973.7 1006.3 L969.63 1006.67Z" fill="#1f9c9c"/>
<path d="M974.81 997.96 L1003.89 994.26 L1003.89 1006.3 L994.07 1007.78 L994.07 1032.22 L989.26 1032.22 L989.26 1008.52 L974.81 1010.37Z" fill="#1f9c9c"/>
<path d="M995.93 1008.52 L1003.89 1007.22 L1003.89 1028.15 L995.93 1032.22Z" fill="#23a5a0"/>
</g>
</svg>
</body></html>
